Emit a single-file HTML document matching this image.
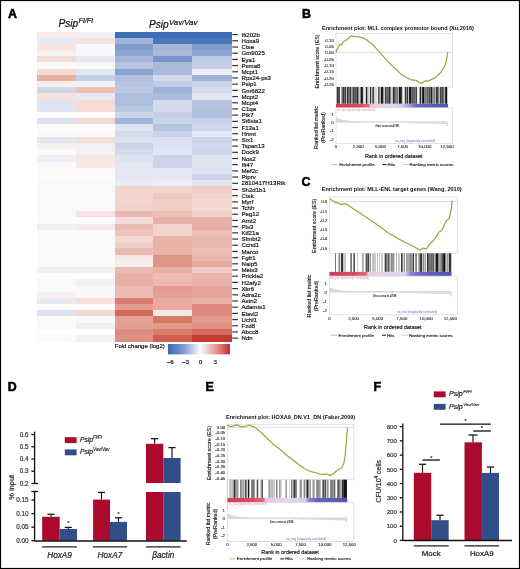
<!DOCTYPE html><html><head><meta charset="utf-8"><style>html,body{margin:0;padding:0;background:#fff;}svg{display:block;font-family:"Liberation Sans", sans-serif;filter:blur(0.45px);}</style></head><body>
<svg width="520" height="569" viewBox="0 0 520 569">
<rect x="0" y="0" width="520" height="569" fill="#fff"/>
<rect x="37.00" y="31.50" width="39.40" height="6.79" fill="#f8ebe8" shape-rendering="crispEdges"/>
<rect x="75.80" y="31.50" width="39.40" height="6.79" fill="#eef0f6" shape-rendering="crispEdges"/>
<rect x="114.60" y="31.50" width="39.40" height="6.79" fill="#3d6db5" shape-rendering="crispEdges"/>
<rect x="153.40" y="31.50" width="39.40" height="6.79" fill="#3d6db5" shape-rendering="crispEdges"/>
<rect x="192.20" y="31.50" width="39.40" height="6.79" fill="#3d6db5" shape-rendering="crispEdges"/>
<rect x="37.00" y="37.70" width="39.40" height="6.79" fill="#e6eaf2" shape-rendering="crispEdges"/>
<rect x="75.80" y="37.70" width="39.40" height="6.79" fill="#f6e3df" shape-rendering="crispEdges"/>
<rect x="114.60" y="37.70" width="39.40" height="6.79" fill="#9fb3d8" shape-rendering="crispEdges"/>
<rect x="153.40" y="37.70" width="39.40" height="6.79" fill="#4a78ba" shape-rendering="crispEdges"/>
<rect x="192.20" y="37.70" width="39.40" height="6.79" fill="#4a78ba" shape-rendering="crispEdges"/>
<rect x="37.00" y="43.89" width="39.40" height="6.79" fill="#f7e6e2" shape-rendering="crispEdges"/>
<rect x="75.80" y="43.89" width="39.40" height="6.79" fill="#f8f8fb" shape-rendering="crispEdges"/>
<rect x="114.60" y="43.89" width="39.40" height="6.79" fill="#7f9ccd" shape-rendering="crispEdges"/>
<rect x="153.40" y="43.89" width="39.40" height="6.79" fill="#a5b6d9" shape-rendering="crispEdges"/>
<rect x="192.20" y="43.89" width="39.40" height="6.79" fill="#7f9ccd" shape-rendering="crispEdges"/>
<rect x="37.00" y="50.09" width="39.40" height="6.79" fill="#f8f0ee" shape-rendering="crispEdges"/>
<rect x="75.80" y="50.09" width="39.40" height="6.79" fill="#f7f8fb" shape-rendering="crispEdges"/>
<rect x="114.60" y="50.09" width="39.40" height="6.79" fill="#8aa3d0" shape-rendering="crispEdges"/>
<rect x="153.40" y="50.09" width="39.40" height="6.79" fill="#a9badb" shape-rendering="crispEdges"/>
<rect x="192.20" y="50.09" width="39.40" height="6.79" fill="#8aa3d0" shape-rendering="crispEdges"/>
<rect x="37.00" y="56.28" width="39.40" height="6.79" fill="#f3dcd8" shape-rendering="crispEdges"/>
<rect x="75.80" y="56.28" width="39.40" height="6.79" fill="#e8e8f2" shape-rendering="crispEdges"/>
<rect x="114.60" y="56.28" width="39.40" height="6.79" fill="#a6b7da" shape-rendering="crispEdges"/>
<rect x="153.40" y="56.28" width="39.40" height="6.79" fill="#7895c9" shape-rendering="crispEdges"/>
<rect x="192.20" y="56.28" width="39.40" height="6.79" fill="#c0cbe4" shape-rendering="crispEdges"/>
<rect x="37.00" y="62.48" width="39.40" height="6.79" fill="#fbf8f8" shape-rendering="crispEdges"/>
<rect x="75.80" y="62.48" width="39.40" height="6.79" fill="#f8f8fb" shape-rendering="crispEdges"/>
<rect x="114.60" y="62.48" width="39.40" height="6.79" fill="#b8c5e2" shape-rendering="crispEdges"/>
<rect x="153.40" y="62.48" width="39.40" height="6.79" fill="#a9badb" shape-rendering="crispEdges"/>
<rect x="192.20" y="62.48" width="39.40" height="6.79" fill="#c4cfe6" shape-rendering="crispEdges"/>
<rect x="37.00" y="68.67" width="39.40" height="6.79" fill="#f2dcd6" shape-rendering="crispEdges"/>
<rect x="75.80" y="68.67" width="39.40" height="6.79" fill="#e2e6f0" shape-rendering="crispEdges"/>
<rect x="114.60" y="68.67" width="39.40" height="6.79" fill="#8aa2cf" shape-rendering="crispEdges"/>
<rect x="153.40" y="68.67" width="39.40" height="6.79" fill="#a9badb" shape-rendering="crispEdges"/>
<rect x="192.20" y="68.67" width="39.40" height="6.79" fill="#eceff7" shape-rendering="crispEdges"/>
<rect x="37.00" y="74.87" width="39.40" height="6.79" fill="#e8b0a0" shape-rendering="crispEdges"/>
<rect x="75.80" y="74.87" width="39.40" height="6.79" fill="#c5cfe3" shape-rendering="crispEdges"/>
<rect x="114.60" y="74.87" width="39.40" height="6.79" fill="#b0c0de" shape-rendering="crispEdges"/>
<rect x="153.40" y="74.87" width="39.40" height="6.79" fill="#d4dbec" shape-rendering="crispEdges"/>
<rect x="192.20" y="74.87" width="39.40" height="6.79" fill="#9fb3d8" shape-rendering="crispEdges"/>
<rect x="37.00" y="81.06" width="39.40" height="6.79" fill="#f8f0ee" shape-rendering="crispEdges"/>
<rect x="75.80" y="81.06" width="39.40" height="6.79" fill="#f0f2f7" shape-rendering="crispEdges"/>
<rect x="114.60" y="81.06" width="39.40" height="6.79" fill="#b6c4e1" shape-rendering="crispEdges"/>
<rect x="153.40" y="81.06" width="39.40" height="6.79" fill="#c0cbe4" shape-rendering="crispEdges"/>
<rect x="192.20" y="81.06" width="39.40" height="6.79" fill="#c9d2e8" shape-rendering="crispEdges"/>
<rect x="37.00" y="87.25" width="39.40" height="6.79" fill="#cdd6e8" shape-rendering="crispEdges"/>
<rect x="75.80" y="87.25" width="39.40" height="6.79" fill="#eec0b2" shape-rendering="crispEdges"/>
<rect x="114.60" y="87.25" width="39.40" height="6.79" fill="#bdc9e3" shape-rendering="crispEdges"/>
<rect x="153.40" y="87.25" width="39.40" height="6.79" fill="#9fb2d8" shape-rendering="crispEdges"/>
<rect x="192.20" y="87.25" width="39.40" height="6.79" fill="#d5dcec" shape-rendering="crispEdges"/>
<rect x="37.00" y="93.45" width="39.40" height="6.79" fill="#f4e0dc" shape-rendering="crispEdges"/>
<rect x="75.80" y="93.45" width="39.40" height="6.79" fill="#e8e8f2" shape-rendering="crispEdges"/>
<rect x="114.60" y="93.45" width="39.40" height="6.79" fill="#aebfdd" shape-rendering="crispEdges"/>
<rect x="153.40" y="93.45" width="39.40" height="6.79" fill="#a9badb" shape-rendering="crispEdges"/>
<rect x="192.20" y="93.45" width="39.40" height="6.79" fill="#e4e8f3" shape-rendering="crispEdges"/>
<rect x="37.00" y="99.65" width="39.40" height="6.79" fill="#dde3f0" shape-rendering="crispEdges"/>
<rect x="75.80" y="99.65" width="39.40" height="6.79" fill="#f5ddd5" shape-rendering="crispEdges"/>
<rect x="114.60" y="99.65" width="39.40" height="6.79" fill="#aebfdd" shape-rendering="crispEdges"/>
<rect x="153.40" y="99.65" width="39.40" height="6.79" fill="#d2daeb" shape-rendering="crispEdges"/>
<rect x="192.20" y="99.65" width="39.40" height="6.79" fill="#b7c4e1" shape-rendering="crispEdges"/>
<rect x="37.00" y="105.84" width="39.40" height="6.79" fill="#dfe5f1" shape-rendering="crispEdges"/>
<rect x="75.80" y="105.84" width="39.40" height="6.79" fill="#f5ddd5" shape-rendering="crispEdges"/>
<rect x="114.60" y="105.84" width="39.40" height="6.79" fill="#b9c6e2" shape-rendering="crispEdges"/>
<rect x="153.40" y="105.84" width="39.40" height="6.79" fill="#d2daeb" shape-rendering="crispEdges"/>
<rect x="192.20" y="105.84" width="39.40" height="6.79" fill="#b2c1df" shape-rendering="crispEdges"/>
<rect x="37.00" y="112.03" width="39.40" height="6.79" fill="#fdfdfe" shape-rendering="crispEdges"/>
<rect x="75.80" y="112.03" width="39.40" height="6.79" fill="#fdfdfe" shape-rendering="crispEdges"/>
<rect x="114.60" y="112.03" width="39.40" height="6.79" fill="#cdd5ea" shape-rendering="crispEdges"/>
<rect x="153.40" y="112.03" width="39.40" height="6.79" fill="#c6cfe6" shape-rendering="crispEdges"/>
<rect x="192.20" y="112.03" width="39.40" height="6.79" fill="#b2c1df" shape-rendering="crispEdges"/>
<rect x="37.00" y="118.23" width="39.40" height="6.79" fill="#dfe1ee" shape-rendering="crispEdges"/>
<rect x="75.80" y="118.23" width="39.40" height="6.79" fill="#f2d8d6" shape-rendering="crispEdges"/>
<rect x="114.60" y="118.23" width="39.40" height="6.79" fill="#a3b5d8" shape-rendering="crispEdges"/>
<rect x="153.40" y="118.23" width="39.40" height="6.79" fill="#cdd5ea" shape-rendering="crispEdges"/>
<rect x="192.20" y="118.23" width="39.40" height="6.79" fill="#c9d2e8" shape-rendering="crispEdges"/>
<rect x="37.00" y="124.43" width="39.40" height="6.79" fill="#fbfbfd" shape-rendering="crispEdges"/>
<rect x="75.80" y="124.43" width="39.40" height="6.79" fill="#fbfbfd" shape-rendering="crispEdges"/>
<rect x="114.60" y="124.43" width="39.40" height="6.79" fill="#dfe4f1" shape-rendering="crispEdges"/>
<rect x="153.40" y="124.43" width="39.40" height="6.79" fill="#b7c4e1" shape-rendering="crispEdges"/>
<rect x="192.20" y="124.43" width="39.40" height="6.79" fill="#cfd7ea" shape-rendering="crispEdges"/>
<rect x="37.00" y="130.62" width="39.40" height="6.79" fill="#faf8fa" shape-rendering="crispEdges"/>
<rect x="75.80" y="130.62" width="39.40" height="6.79" fill="#f9f9fb" shape-rendering="crispEdges"/>
<rect x="114.60" y="130.62" width="39.40" height="6.79" fill="#d3daec" shape-rendering="crispEdges"/>
<rect x="153.40" y="130.62" width="39.40" height="6.79" fill="#cad3e8" shape-rendering="crispEdges"/>
<rect x="192.20" y="130.62" width="39.40" height="6.79" fill="#e6eaf4" shape-rendering="crispEdges"/>
<rect x="37.00" y="136.81" width="39.40" height="6.79" fill="#e5e6f0" shape-rendering="crispEdges"/>
<rect x="75.80" y="136.81" width="39.40" height="6.79" fill="#f3dedb" shape-rendering="crispEdges"/>
<rect x="114.60" y="136.81" width="39.40" height="6.79" fill="#dde2f0" shape-rendering="crispEdges"/>
<rect x="153.40" y="136.81" width="39.40" height="6.79" fill="#dce2f0" shape-rendering="crispEdges"/>
<rect x="192.20" y="136.81" width="39.40" height="6.79" fill="#cdd4e9" shape-rendering="crispEdges"/>
<rect x="37.00" y="143.01" width="39.40" height="6.79" fill="#f7f0ef" shape-rendering="crispEdges"/>
<rect x="75.80" y="143.01" width="39.40" height="6.79" fill="#f0f1f7" shape-rendering="crispEdges"/>
<rect x="114.60" y="143.01" width="39.40" height="6.79" fill="#ccd4e9" shape-rendering="crispEdges"/>
<rect x="153.40" y="143.01" width="39.40" height="6.79" fill="#dde3f0" shape-rendering="crispEdges"/>
<rect x="192.20" y="143.01" width="39.40" height="6.79" fill="#d3d9ec" shape-rendering="crispEdges"/>
<rect x="37.00" y="149.21" width="39.40" height="6.79" fill="#fbfafb" shape-rendering="crispEdges"/>
<rect x="75.80" y="149.21" width="39.40" height="6.79" fill="#f5f0f0" shape-rendering="crispEdges"/>
<rect x="114.60" y="149.21" width="39.40" height="6.79" fill="#d5dcec" shape-rendering="crispEdges"/>
<rect x="153.40" y="149.21" width="39.40" height="6.79" fill="#e2e6f2" shape-rendering="crispEdges"/>
<rect x="192.20" y="149.21" width="39.40" height="6.79" fill="#d0d6ea" shape-rendering="crispEdges"/>
<rect x="37.00" y="155.40" width="39.40" height="6.79" fill="#eef0f6" shape-rendering="crispEdges"/>
<rect x="75.80" y="155.40" width="39.40" height="6.79" fill="#f7e6e4" shape-rendering="crispEdges"/>
<rect x="114.60" y="155.40" width="39.40" height="6.79" fill="#dfe3f0" shape-rendering="crispEdges"/>
<rect x="153.40" y="155.40" width="39.40" height="6.79" fill="#cdd4ea" shape-rendering="crispEdges"/>
<rect x="192.20" y="155.40" width="39.40" height="6.79" fill="#dfe3f0" shape-rendering="crispEdges"/>
<rect x="37.00" y="161.59" width="39.40" height="6.79" fill="#faf8fa" shape-rendering="crispEdges"/>
<rect x="75.80" y="161.59" width="39.40" height="6.79" fill="#f7e8e6" shape-rendering="crispEdges"/>
<rect x="114.60" y="161.59" width="39.40" height="6.79" fill="#e4e8f3" shape-rendering="crispEdges"/>
<rect x="153.40" y="161.59" width="39.40" height="6.79" fill="#cdd4ea" shape-rendering="crispEdges"/>
<rect x="192.20" y="161.59" width="39.40" height="6.79" fill="#dfe3f0" shape-rendering="crispEdges"/>
<rect x="37.00" y="167.79" width="39.40" height="6.79" fill="#fdf9f7" shape-rendering="crispEdges"/>
<rect x="75.80" y="167.79" width="39.40" height="6.79" fill="#f9f9fb" shape-rendering="crispEdges"/>
<rect x="114.60" y="167.79" width="39.40" height="6.79" fill="#e4e8f3" shape-rendering="crispEdges"/>
<rect x="153.40" y="167.79" width="39.40" height="6.79" fill="#e6e9f3" shape-rendering="crispEdges"/>
<rect x="192.20" y="167.79" width="39.40" height="6.79" fill="#dfe3f0" shape-rendering="crispEdges"/>
<rect x="37.00" y="173.99" width="39.40" height="6.79" fill="#fbfbfc" shape-rendering="crispEdges"/>
<rect x="75.80" y="173.99" width="39.40" height="6.79" fill="#fbfbfc" shape-rendering="crispEdges"/>
<rect x="114.60" y="173.99" width="39.40" height="6.79" fill="#e2e7f2" shape-rendering="crispEdges"/>
<rect x="153.40" y="173.99" width="39.40" height="6.79" fill="#e6e9f3" shape-rendering="crispEdges"/>
<rect x="192.20" y="173.99" width="39.40" height="6.79" fill="#cdd4ea" shape-rendering="crispEdges"/>
<rect x="37.00" y="180.18" width="39.40" height="6.79" fill="#f9f9fb" shape-rendering="crispEdges"/>
<rect x="75.80" y="180.18" width="39.40" height="6.79" fill="#f9f9fb" shape-rendering="crispEdges"/>
<rect x="114.60" y="180.18" width="39.40" height="6.79" fill="#e8ebf4" shape-rendering="crispEdges"/>
<rect x="153.40" y="180.18" width="39.40" height="6.79" fill="#ecedf5" shape-rendering="crispEdges"/>
<rect x="192.20" y="180.18" width="39.40" height="6.79" fill="#e0e5f2" shape-rendering="crispEdges"/>
<rect x="37.00" y="186.38" width="39.40" height="6.79" fill="#f9f9fb" shape-rendering="crispEdges"/>
<rect x="75.80" y="186.38" width="39.40" height="6.79" fill="#f9f9fb" shape-rendering="crispEdges"/>
<rect x="114.60" y="186.38" width="39.40" height="6.79" fill="#f2d5cf" shape-rendering="crispEdges"/>
<rect x="153.40" y="186.38" width="39.40" height="6.79" fill="#f2d5cf" shape-rendering="crispEdges"/>
<rect x="192.20" y="186.38" width="39.40" height="6.79" fill="#f0cdc6" shape-rendering="crispEdges"/>
<rect x="37.00" y="192.57" width="39.40" height="6.79" fill="#f9f9fb" shape-rendering="crispEdges"/>
<rect x="75.80" y="192.57" width="39.40" height="6.79" fill="#f9f9fb" shape-rendering="crispEdges"/>
<rect x="114.60" y="192.57" width="39.40" height="6.79" fill="#f2d5cf" shape-rendering="crispEdges"/>
<rect x="153.40" y="192.57" width="39.40" height="6.79" fill="#efc9c2" shape-rendering="crispEdges"/>
<rect x="192.20" y="192.57" width="39.40" height="6.79" fill="#f2d5cf" shape-rendering="crispEdges"/>
<rect x="37.00" y="198.77" width="39.40" height="6.79" fill="#f9f9fb" shape-rendering="crispEdges"/>
<rect x="75.80" y="198.77" width="39.40" height="6.79" fill="#f9f9fb" shape-rendering="crispEdges"/>
<rect x="114.60" y="198.77" width="39.40" height="6.79" fill="#f2d3cd" shape-rendering="crispEdges"/>
<rect x="153.40" y="198.77" width="39.40" height="6.79" fill="#f0cfc9" shape-rendering="crispEdges"/>
<rect x="192.20" y="198.77" width="39.40" height="6.79" fill="#f2d7d2" shape-rendering="crispEdges"/>
<rect x="37.00" y="204.96" width="39.40" height="6.79" fill="#f9f9fb" shape-rendering="crispEdges"/>
<rect x="75.80" y="204.96" width="39.40" height="6.79" fill="#f9f9fb" shape-rendering="crispEdges"/>
<rect x="114.60" y="204.96" width="39.40" height="6.79" fill="#f0d1cc" shape-rendering="crispEdges"/>
<rect x="153.40" y="204.96" width="39.40" height="6.79" fill="#f0cfc9" shape-rendering="crispEdges"/>
<rect x="192.20" y="204.96" width="39.40" height="6.79" fill="#f2d7d2" shape-rendering="crispEdges"/>
<rect x="37.00" y="211.16" width="39.40" height="6.79" fill="#faf8f8" shape-rendering="crispEdges"/>
<rect x="75.80" y="211.16" width="39.40" height="6.79" fill="#f8e3e3" shape-rendering="crispEdges"/>
<rect x="114.60" y="211.16" width="39.40" height="6.79" fill="#eab8b0" shape-rendering="crispEdges"/>
<rect x="153.40" y="211.16" width="39.40" height="6.79" fill="#ecc0b8" shape-rendering="crispEdges"/>
<rect x="192.20" y="211.16" width="39.40" height="6.79" fill="#f0d0ca" shape-rendering="crispEdges"/>
<rect x="37.00" y="217.35" width="39.40" height="6.79" fill="#fbfbfc" shape-rendering="crispEdges"/>
<rect x="75.80" y="217.35" width="39.40" height="6.79" fill="#fbfbfc" shape-rendering="crispEdges"/>
<rect x="114.60" y="217.35" width="39.40" height="6.79" fill="#f4dcd8" shape-rendering="crispEdges"/>
<rect x="153.40" y="217.35" width="39.40" height="6.79" fill="#e8b2a8" shape-rendering="crispEdges"/>
<rect x="192.20" y="217.35" width="39.40" height="6.79" fill="#e8b4aa" shape-rendering="crispEdges"/>
<rect x="37.00" y="223.55" width="39.40" height="6.79" fill="#eef0f5" shape-rendering="crispEdges"/>
<rect x="75.80" y="223.55" width="39.40" height="6.79" fill="#f6e8e6" shape-rendering="crispEdges"/>
<rect x="114.60" y="223.55" width="39.40" height="6.79" fill="#ecbcb4" shape-rendering="crispEdges"/>
<rect x="153.40" y="223.55" width="39.40" height="6.79" fill="#f1d4ce" shape-rendering="crispEdges"/>
<rect x="192.20" y="223.55" width="39.40" height="6.79" fill="#e6aea4" shape-rendering="crispEdges"/>
<rect x="37.00" y="229.74" width="39.40" height="6.79" fill="#fbfafb" shape-rendering="crispEdges"/>
<rect x="75.80" y="229.74" width="39.40" height="6.79" fill="#fbfafb" shape-rendering="crispEdges"/>
<rect x="114.60" y="229.74" width="39.40" height="6.79" fill="#eec4bc" shape-rendering="crispEdges"/>
<rect x="153.40" y="229.74" width="39.40" height="6.79" fill="#f1d4ce" shape-rendering="crispEdges"/>
<rect x="192.20" y="229.74" width="39.40" height="6.79" fill="#ecbfb6" shape-rendering="crispEdges"/>
<rect x="37.00" y="235.94" width="39.40" height="6.79" fill="#fbfafb" shape-rendering="crispEdges"/>
<rect x="75.80" y="235.94" width="39.40" height="6.79" fill="#fbfafb" shape-rendering="crispEdges"/>
<rect x="114.60" y="235.94" width="39.40" height="6.79" fill="#f3d8d4" shape-rendering="crispEdges"/>
<rect x="153.40" y="235.94" width="39.40" height="6.79" fill="#e8b4aa" shape-rendering="crispEdges"/>
<rect x="192.20" y="235.94" width="39.40" height="6.79" fill="#e9b8ae" shape-rendering="crispEdges"/>
<rect x="37.00" y="242.13" width="39.40" height="6.79" fill="#fbfafb" shape-rendering="crispEdges"/>
<rect x="75.80" y="242.13" width="39.40" height="6.79" fill="#fbfafb" shape-rendering="crispEdges"/>
<rect x="114.60" y="242.13" width="39.40" height="6.79" fill="#f0d0ca" shape-rendering="crispEdges"/>
<rect x="153.40" y="242.13" width="39.40" height="6.79" fill="#e8b2a8" shape-rendering="crispEdges"/>
<rect x="192.20" y="242.13" width="39.40" height="6.79" fill="#e9b8ae" shape-rendering="crispEdges"/>
<rect x="37.00" y="248.33" width="39.40" height="6.79" fill="#fbfafb" shape-rendering="crispEdges"/>
<rect x="75.80" y="248.33" width="39.40" height="6.79" fill="#fbfafb" shape-rendering="crispEdges"/>
<rect x="114.60" y="248.33" width="39.40" height="6.79" fill="#ebbbb2" shape-rendering="crispEdges"/>
<rect x="153.40" y="248.33" width="39.40" height="6.79" fill="#e8b4aa" shape-rendering="crispEdges"/>
<rect x="192.20" y="248.33" width="39.40" height="6.79" fill="#ecbfb6" shape-rendering="crispEdges"/>
<rect x="37.00" y="254.52" width="39.40" height="6.79" fill="#fbfafb" shape-rendering="crispEdges"/>
<rect x="75.80" y="254.52" width="39.40" height="6.79" fill="#fbfafb" shape-rendering="crispEdges"/>
<rect x="114.60" y="254.52" width="39.40" height="6.79" fill="#f7e8e8" shape-rendering="crispEdges"/>
<rect x="153.40" y="254.52" width="39.40" height="6.79" fill="#e09484" shape-rendering="crispEdges"/>
<rect x="192.20" y="254.52" width="39.40" height="6.79" fill="#eab8ae" shape-rendering="crispEdges"/>
<rect x="37.00" y="260.72" width="39.40" height="6.79" fill="#fbfafb" shape-rendering="crispEdges"/>
<rect x="75.80" y="260.72" width="39.40" height="6.79" fill="#fbfafb" shape-rendering="crispEdges"/>
<rect x="114.60" y="260.72" width="39.40" height="6.79" fill="#f8eeee" shape-rendering="crispEdges"/>
<rect x="153.40" y="260.72" width="39.40" height="6.79" fill="#e09484" shape-rendering="crispEdges"/>
<rect x="192.20" y="260.72" width="39.40" height="6.79" fill="#e6aca0" shape-rendering="crispEdges"/>
<rect x="37.00" y="266.91" width="39.40" height="6.79" fill="#f6eeec" shape-rendering="crispEdges"/>
<rect x="75.80" y="266.91" width="39.40" height="6.79" fill="#f0f0f5" shape-rendering="crispEdges"/>
<rect x="114.60" y="266.91" width="39.40" height="6.79" fill="#ecbcb4" shape-rendering="crispEdges"/>
<rect x="153.40" y="266.91" width="39.40" height="6.79" fill="#e8b0a6" shape-rendering="crispEdges"/>
<rect x="192.20" y="266.91" width="39.40" height="6.79" fill="#f0cdc6" shape-rendering="crispEdges"/>
<rect x="37.00" y="273.11" width="39.40" height="6.79" fill="#fcfcfc" shape-rendering="crispEdges"/>
<rect x="75.80" y="273.11" width="39.40" height="6.79" fill="#fcfcfc" shape-rendering="crispEdges"/>
<rect x="114.60" y="273.11" width="39.40" height="6.79" fill="#e8b2a8" shape-rendering="crispEdges"/>
<rect x="153.40" y="273.11" width="39.40" height="6.79" fill="#ecbdb4" shape-rendering="crispEdges"/>
<rect x="192.20" y="273.11" width="39.40" height="6.79" fill="#eab6ac" shape-rendering="crispEdges"/>
<rect x="37.00" y="279.30" width="39.40" height="6.79" fill="#faf9fa" shape-rendering="crispEdges"/>
<rect x="75.80" y="279.30" width="39.40" height="6.79" fill="#f7f0ef" shape-rendering="crispEdges"/>
<rect x="114.60" y="279.30" width="39.40" height="6.79" fill="#e8b0a6" shape-rendering="crispEdges"/>
<rect x="153.40" y="279.30" width="39.40" height="6.79" fill="#ecbab1" shape-rendering="crispEdges"/>
<rect x="192.20" y="279.30" width="39.40" height="6.79" fill="#e8b2a8" shape-rendering="crispEdges"/>
<rect x="37.00" y="285.50" width="39.40" height="6.79" fill="#fbfbfc" shape-rendering="crispEdges"/>
<rect x="75.80" y="285.50" width="39.40" height="6.79" fill="#f8f8fb" shape-rendering="crispEdges"/>
<rect x="114.60" y="285.50" width="39.40" height="6.79" fill="#ecbab1" shape-rendering="crispEdges"/>
<rect x="153.40" y="285.50" width="39.40" height="6.79" fill="#e49c90" shape-rendering="crispEdges"/>
<rect x="192.20" y="285.50" width="39.40" height="6.79" fill="#e5a498" shape-rendering="crispEdges"/>
<rect x="37.00" y="291.69" width="39.40" height="6.79" fill="#f6f0f0" shape-rendering="crispEdges"/>
<rect x="75.80" y="291.69" width="39.40" height="6.79" fill="#f8f8fb" shape-rendering="crispEdges"/>
<rect x="114.60" y="291.69" width="39.40" height="6.79" fill="#ecbcb4" shape-rendering="crispEdges"/>
<rect x="153.40" y="291.69" width="39.40" height="6.79" fill="#e4a094" shape-rendering="crispEdges"/>
<rect x="192.20" y="291.69" width="39.40" height="6.79" fill="#e5a498" shape-rendering="crispEdges"/>
<rect x="37.00" y="297.88" width="39.40" height="6.79" fill="#e8ebf4" shape-rendering="crispEdges"/>
<rect x="75.80" y="297.88" width="39.40" height="6.79" fill="#f5e2df" shape-rendering="crispEdges"/>
<rect x="114.60" y="297.88" width="39.40" height="6.79" fill="#d97c70" shape-rendering="crispEdges"/>
<rect x="153.40" y="297.88" width="39.40" height="6.79" fill="#e6aa9e" shape-rendering="crispEdges"/>
<rect x="192.20" y="297.88" width="39.40" height="6.79" fill="#e8b0a6" shape-rendering="crispEdges"/>
<rect x="37.00" y="304.08" width="39.40" height="6.79" fill="#fdfdfd" shape-rendering="crispEdges"/>
<rect x="75.80" y="304.08" width="39.40" height="6.79" fill="#fdfdfd" shape-rendering="crispEdges"/>
<rect x="114.60" y="304.08" width="39.40" height="6.79" fill="#e29c90" shape-rendering="crispEdges"/>
<rect x="153.40" y="304.08" width="39.40" height="6.79" fill="#eca89c" shape-rendering="crispEdges"/>
<rect x="192.20" y="304.08" width="39.40" height="6.79" fill="#dd8a7e" shape-rendering="crispEdges"/>
<rect x="37.00" y="310.28" width="39.40" height="6.79" fill="#dfe3f0" shape-rendering="crispEdges"/>
<rect x="75.80" y="310.28" width="39.40" height="6.79" fill="#f3d8d6" shape-rendering="crispEdges"/>
<rect x="114.60" y="310.28" width="39.40" height="6.79" fill="#d46a5e" shape-rendering="crispEdges"/>
<rect x="153.40" y="310.28" width="39.40" height="6.79" fill="#f6e8e4" shape-rendering="crispEdges"/>
<rect x="192.20" y="310.28" width="39.40" height="6.79" fill="#dc887c" shape-rendering="crispEdges"/>
<rect x="37.00" y="316.47" width="39.40" height="6.79" fill="#faf9fa" shape-rendering="crispEdges"/>
<rect x="75.80" y="316.47" width="39.40" height="6.79" fill="#f8f8fa" shape-rendering="crispEdges"/>
<rect x="114.60" y="316.47" width="39.40" height="6.79" fill="#e4a094" shape-rendering="crispEdges"/>
<rect x="153.40" y="316.47" width="39.40" height="6.79" fill="#d77868" shape-rendering="crispEdges"/>
<rect x="192.20" y="316.47" width="39.40" height="6.79" fill="#e29a8e" shape-rendering="crispEdges"/>
<rect x="37.00" y="322.67" width="39.40" height="6.79" fill="#faf8f9" shape-rendering="crispEdges"/>
<rect x="75.80" y="322.67" width="39.40" height="6.79" fill="#f6eceb" shape-rendering="crispEdges"/>
<rect x="114.60" y="322.67" width="39.40" height="6.79" fill="#e39e92" shape-rendering="crispEdges"/>
<rect x="153.40" y="322.67" width="39.40" height="6.79" fill="#e29a8c" shape-rendering="crispEdges"/>
<rect x="192.20" y="322.67" width="39.40" height="6.79" fill="#e09282" shape-rendering="crispEdges"/>
<rect x="37.00" y="328.86" width="39.40" height="6.79" fill="#fdfdfd" shape-rendering="crispEdges"/>
<rect x="75.80" y="328.86" width="39.40" height="6.79" fill="#fdfdfd" shape-rendering="crispEdges"/>
<rect x="114.60" y="328.86" width="39.40" height="6.79" fill="#de8c80" shape-rendering="crispEdges"/>
<rect x="153.40" y="328.86" width="39.40" height="6.79" fill="#d87a6c" shape-rendering="crispEdges"/>
<rect x="192.20" y="328.86" width="39.40" height="6.79" fill="#d46a5c" shape-rendering="crispEdges"/>
<rect x="37.00" y="335.06" width="39.40" height="6.79" fill="#fbf9f9" shape-rendering="crispEdges"/>
<rect x="75.80" y="335.06" width="39.40" height="6.79" fill="#f6f0f0" shape-rendering="crispEdges"/>
<rect x="114.60" y="335.06" width="39.40" height="6.79" fill="#de9084" shape-rendering="crispEdges"/>
<rect x="153.40" y="335.06" width="39.40" height="6.79" fill="#d25e50" shape-rendering="crispEdges"/>
<rect x="192.20" y="335.06" width="39.40" height="6.79" fill="#c83a30" shape-rendering="crispEdges"/>
<rect x="232.3" y="34.00" width="5.7" height="1.2" fill="#333"/>
<text x="241.50" y="36.75" font-size="6.1" fill="#111" stroke="#111" stroke-width="0.183">Ifi202b</text>
<rect x="232.3" y="40.19" width="5.7" height="1.2" fill="#333"/>
<text x="241.50" y="42.94" font-size="6.1" fill="#111" stroke="#111" stroke-width="0.183">Hoxa9</text>
<rect x="232.3" y="46.39" width="5.7" height="1.2" fill="#333"/>
<text x="241.50" y="49.14" font-size="6.1" fill="#111" stroke="#111" stroke-width="0.183">Ctse</text>
<rect x="232.3" y="52.58" width="5.7" height="1.2" fill="#333"/>
<text x="241.50" y="55.33" font-size="6.1" fill="#111" stroke="#111" stroke-width="0.183">Gm9025</text>
<rect x="232.3" y="58.78" width="5.7" height="1.2" fill="#333"/>
<text x="241.50" y="61.53" font-size="6.1" fill="#111" stroke="#111" stroke-width="0.183">Eya1</text>
<rect x="232.3" y="64.97" width="5.7" height="1.2" fill="#333"/>
<text x="241.50" y="67.72" font-size="6.1" fill="#111" stroke="#111" stroke-width="0.183">Psma8</text>
<rect x="232.3" y="71.17" width="5.7" height="1.2" fill="#333"/>
<text x="241.50" y="73.92" font-size="6.1" fill="#111" stroke="#111" stroke-width="0.183">Mcpt1</text>
<rect x="232.3" y="77.36" width="5.7" height="1.2" fill="#333"/>
<text x="241.50" y="80.11" font-size="6.1" fill="#111" stroke="#111" stroke-width="0.183">Rps24-ps3</text>
<rect x="232.3" y="83.56" width="5.7" height="1.2" fill="#333"/>
<text x="241.50" y="86.31" font-size="6.1" fill="#111" stroke="#111" stroke-width="0.183">Psip1</text>
<rect x="232.3" y="89.75" width="5.7" height="1.2" fill="#333"/>
<text x="241.50" y="92.50" font-size="6.1" fill="#111" stroke="#111" stroke-width="0.183">Gm6822</text>
<rect x="232.3" y="95.95" width="5.7" height="1.2" fill="#333"/>
<text x="241.50" y="98.70" font-size="6.1" fill="#111" stroke="#111" stroke-width="0.183">Mcpt2</text>
<rect x="232.3" y="102.14" width="5.7" height="1.2" fill="#333"/>
<text x="241.50" y="104.89" font-size="6.1" fill="#111" stroke="#111" stroke-width="0.183">Mcpt4</text>
<rect x="232.3" y="108.34" width="5.7" height="1.2" fill="#333"/>
<text x="241.50" y="111.09" font-size="6.1" fill="#111" stroke="#111" stroke-width="0.183">C1qa</text>
<rect x="232.3" y="114.53" width="5.7" height="1.2" fill="#333"/>
<text x="241.50" y="117.28" font-size="6.1" fill="#111" stroke="#111" stroke-width="0.183">Ptk7</text>
<rect x="232.3" y="120.73" width="5.7" height="1.2" fill="#333"/>
<text x="241.50" y="123.48" font-size="6.1" fill="#111" stroke="#111" stroke-width="0.183">St6sia1</text>
<rect x="232.3" y="126.92" width="5.7" height="1.2" fill="#333"/>
<text x="241.50" y="129.67" font-size="6.1" fill="#111" stroke="#111" stroke-width="0.183">F13a1</text>
<rect x="232.3" y="133.12" width="5.7" height="1.2" fill="#333"/>
<text x="241.50" y="135.87" font-size="6.1" fill="#111" stroke="#111" stroke-width="0.183">Hnmt</text>
<rect x="232.3" y="139.31" width="5.7" height="1.2" fill="#333"/>
<text x="241.50" y="142.06" font-size="6.1" fill="#111" stroke="#111" stroke-width="0.183">Six1</text>
<rect x="232.3" y="145.51" width="5.7" height="1.2" fill="#333"/>
<text x="241.50" y="148.26" font-size="6.1" fill="#111" stroke="#111" stroke-width="0.183">Tspan13</text>
<rect x="232.3" y="151.70" width="5.7" height="1.2" fill="#333"/>
<text x="241.50" y="154.45" font-size="6.1" fill="#111" stroke="#111" stroke-width="0.183">Dock9</text>
<rect x="232.3" y="157.90" width="5.7" height="1.2" fill="#333"/>
<text x="241.50" y="160.65" font-size="6.1" fill="#111" stroke="#111" stroke-width="0.183">Nos2</text>
<rect x="232.3" y="164.09" width="5.7" height="1.2" fill="#333"/>
<text x="241.50" y="166.84" font-size="6.1" fill="#111" stroke="#111" stroke-width="0.183">Ifi47</text>
<rect x="232.3" y="170.29" width="5.7" height="1.2" fill="#333"/>
<text x="241.50" y="173.04" font-size="6.1" fill="#111" stroke="#111" stroke-width="0.183">Mef2c</text>
<rect x="232.3" y="176.48" width="5.7" height="1.2" fill="#333"/>
<text x="241.50" y="179.23" font-size="6.1" fill="#111" stroke="#111" stroke-width="0.183">Ptprv</text>
<rect x="232.3" y="182.68" width="5.7" height="1.2" fill="#333"/>
<text x="241.50" y="185.43" font-size="6.1" fill="#111" stroke="#111" stroke-width="0.183">2810417H13Rik</text>
<rect x="232.3" y="188.87" width="5.7" height="1.2" fill="#333"/>
<text x="241.50" y="191.62" font-size="6.1" fill="#111" stroke="#111" stroke-width="0.183">Sh2d1b1</text>
<rect x="232.3" y="195.07" width="5.7" height="1.2" fill="#333"/>
<text x="241.50" y="197.82" font-size="6.1" fill="#111" stroke="#111" stroke-width="0.183">Ctsk</text>
<rect x="232.3" y="201.26" width="5.7" height="1.2" fill="#333"/>
<text x="241.50" y="204.01" font-size="6.1" fill="#111" stroke="#111" stroke-width="0.183">Myrf</text>
<rect x="232.3" y="207.46" width="5.7" height="1.2" fill="#333"/>
<text x="241.50" y="210.21" font-size="6.1" fill="#111" stroke="#111" stroke-width="0.183">Tchh</text>
<rect x="232.3" y="213.65" width="5.7" height="1.2" fill="#333"/>
<text x="241.50" y="216.40" font-size="6.1" fill="#111" stroke="#111" stroke-width="0.183">Peg12</text>
<rect x="232.3" y="219.85" width="5.7" height="1.2" fill="#333"/>
<text x="241.50" y="222.60" font-size="6.1" fill="#111" stroke="#111" stroke-width="0.183">Arnt2</text>
<rect x="232.3" y="226.04" width="5.7" height="1.2" fill="#333"/>
<text x="241.50" y="228.79" font-size="6.1" fill="#111" stroke="#111" stroke-width="0.183">Pls3</text>
<rect x="232.3" y="232.24" width="5.7" height="1.2" fill="#333"/>
<text x="241.50" y="234.99" font-size="6.1" fill="#111" stroke="#111" stroke-width="0.183">Kif21a</text>
<rect x="232.3" y="238.43" width="5.7" height="1.2" fill="#333"/>
<text x="241.50" y="241.18" font-size="6.1" fill="#111" stroke="#111" stroke-width="0.183">Sfmbt2</text>
<rect x="232.3" y="244.63" width="5.7" height="1.2" fill="#333"/>
<text x="241.50" y="247.38" font-size="6.1" fill="#111" stroke="#111" stroke-width="0.183">Ccnd1</text>
<rect x="232.3" y="250.82" width="5.7" height="1.2" fill="#333"/>
<text x="241.50" y="253.57" font-size="6.1" fill="#111" stroke="#111" stroke-width="0.183">Marco</text>
<rect x="232.3" y="257.02" width="5.7" height="1.2" fill="#333"/>
<text x="241.50" y="259.77" font-size="6.1" fill="#111" stroke="#111" stroke-width="0.183">Fgfr1</text>
<rect x="232.3" y="263.21" width="5.7" height="1.2" fill="#333"/>
<text x="241.50" y="265.96" font-size="6.1" fill="#111" stroke="#111" stroke-width="0.183">Naip5</text>
<rect x="232.3" y="269.41" width="5.7" height="1.2" fill="#333"/>
<text x="241.50" y="272.16" font-size="6.1" fill="#111" stroke="#111" stroke-width="0.183">Meis3</text>
<rect x="232.3" y="275.60" width="5.7" height="1.2" fill="#333"/>
<text x="241.50" y="278.35" font-size="6.1" fill="#111" stroke="#111" stroke-width="0.183">Prickle2</text>
<rect x="232.3" y="281.80" width="5.7" height="1.2" fill="#333"/>
<text x="241.50" y="284.55" font-size="6.1" fill="#111" stroke="#111" stroke-width="0.183">H2afy2</text>
<rect x="232.3" y="287.99" width="5.7" height="1.2" fill="#333"/>
<text x="241.50" y="290.74" font-size="6.1" fill="#111" stroke="#111" stroke-width="0.183">Xkr6</text>
<rect x="232.3" y="294.19" width="5.7" height="1.2" fill="#333"/>
<text x="241.50" y="296.94" font-size="6.1" fill="#111" stroke="#111" stroke-width="0.183">Adra2c</text>
<rect x="232.3" y="300.38" width="5.7" height="1.2" fill="#333"/>
<text x="241.50" y="303.13" font-size="6.1" fill="#111" stroke="#111" stroke-width="0.183">Astn2</text>
<rect x="232.3" y="306.58" width="5.7" height="1.2" fill="#333"/>
<text x="241.50" y="309.33" font-size="6.1" fill="#111" stroke="#111" stroke-width="0.183">Adamts1</text>
<rect x="232.3" y="312.77" width="5.7" height="1.2" fill="#333"/>
<text x="241.50" y="315.52" font-size="6.1" fill="#111" stroke="#111" stroke-width="0.183">Elavl2</text>
<rect x="232.3" y="318.97" width="5.7" height="1.2" fill="#333"/>
<text x="241.50" y="321.72" font-size="6.1" fill="#111" stroke="#111" stroke-width="0.183">Uchl1</text>
<rect x="232.3" y="325.16" width="5.7" height="1.2" fill="#333"/>
<text x="241.50" y="327.91" font-size="6.1" fill="#111" stroke="#111" stroke-width="0.183">Fzd8</text>
<rect x="232.3" y="331.36" width="5.7" height="1.2" fill="#333"/>
<text x="241.50" y="334.11" font-size="6.1" fill="#111" stroke="#111" stroke-width="0.183">Abcc8</text>
<rect x="232.3" y="337.55" width="5.7" height="1.2" fill="#333"/>
<text x="241.50" y="340.30" font-size="6.1" fill="#111" stroke="#111" stroke-width="0.183">Ndn</text>
<text x="58.50" y="26.70" font-size="10.1" font-style="italic" fill="#111" stroke="#111" stroke-width="0.22">Psip</text>
<text x="78.60" y="23.40" font-size="7.4" font-style="italic" fill="#111" stroke="#111" stroke-width="0.22">Fl/Fl</text>
<text x="149.00" y="27.50" font-size="10.1" font-style="italic" fill="#111" stroke="#111" stroke-width="0.22">Psip</text>
<text x="168.90" y="25.00" font-size="7.8" font-style="italic" fill="#111" stroke="#111" stroke-width="0.22">Vav/Vav</text>
<defs><linearGradient id="cb" x1="0" x2="1" y1="0" y2="0"><stop offset="0" stop-color="#3b66b2"/><stop offset="0.25" stop-color="#7d9ad0"/><stop offset="0.52" stop-color="#fbfbfd"/><stop offset="0.75" stop-color="#e6a39c"/><stop offset="1" stop-color="#c52a2e"/></linearGradient></defs>
<rect x="168" y="344" width="62" height="10.4" fill="url(#cb)"/>
<text x="164.80" y="348.20" font-size="6.0" text-anchor="end" fill="#111" stroke="#111" stroke-width="0.18">Fold change (log2)</text>
<text x="170.20" y="363.60" font-size="6.2" text-anchor="middle" fill="#111" stroke="#111" stroke-width="0.186">–6</text>
<text x="185.40" y="363.60" font-size="6.2" text-anchor="middle" fill="#111" stroke="#111" stroke-width="0.186">–3</text>
<text x="200.40" y="363.60" font-size="6.2" text-anchor="middle" fill="#111" stroke="#111" stroke-width="0.186">0</text>
<text x="215.30" y="363.60" font-size="6.2" text-anchor="middle" fill="#111" stroke="#111" stroke-width="0.186">3</text>
<text x="322.00" y="30.00" font-size="5.55" font-weight="bold" fill="#111">Enrichment plot: MLL complex promotor bound (Xu,2016)</text>
<rect x="336" y="33.4" width="116.5" height="53.6" fill="none" stroke="#d8d8d8" stroke-width="0.7"/>
<line x1="336" x2="452.5" y1="52.3" y2="52.3" stroke="#cfcfcf" stroke-width="0.7"/>
<text x="333.90" y="41.50" font-size="4.4" text-anchor="end" fill="#333" stroke="#333" stroke-width="0.132">0.10</text>
<text x="333.90" y="47.85" font-size="4.4" text-anchor="end" fill="#333" stroke="#333" stroke-width="0.132">0.05</text>
<text x="333.90" y="54.20" font-size="4.4" text-anchor="end" fill="#333" stroke="#333" stroke-width="0.132">0.00</text>
<text x="333.90" y="60.55" font-size="4.4" text-anchor="end" fill="#333" stroke="#333" stroke-width="0.132">-0.05</text>
<text x="333.90" y="66.90" font-size="4.4" text-anchor="end" fill="#333" stroke="#333" stroke-width="0.132">-0.10</text>
<text x="333.90" y="73.25" font-size="4.4" text-anchor="end" fill="#333" stroke="#333" stroke-width="0.132">-0.15</text>
<text x="333.90" y="79.60" font-size="4.4" text-anchor="end" fill="#333" stroke="#333" stroke-width="0.132">-0.20</text>
<text x="333.90" y="85.95" font-size="4.4" text-anchor="end" fill="#333" stroke="#333" stroke-width="0.132">-0.25</text>
<text x="0" y="0" font-size="5.4" text-anchor="middle" fill="#222" stroke="#222" stroke-width="0.15" transform="translate(318.6,61.5) rotate(-90)">Enrichment score (ES)</text>
<polyline points="335.9,52.6 337.5,48.5 339.8,44.4 341.5,44.8 343.2,42.1 346.7,39.8 350.1,36.9 351.3,35.6 353.0,36.3 358.2,36.7 362.8,37.8 367.4,40.4 373.2,45.0 377.8,50.2 382.4,55.4 388.2,61.7 392.0,65.6 396.6,69.8 401.2,74.4 405.8,77.3 410.5,79.6 416.8,80.7 419.1,82.5 422.0,83.3 425.4,80.7 427.8,81.3 431.2,79.6 434.7,77.9 438.1,75.0 441.6,71.5 445.0,65.8 446.2,61.1 447.1,56.5 447.7,51.9" fill="none" stroke="#8cae46" stroke-width="1.25" stroke-linejoin="round"/>
<rect x="336" y="87.0" width="1" height="16.80" fill="rgb(187,187,187)"/>
<rect x="337" y="87.0" width="1" height="16.80" fill="rgb(51,51,51)"/>
<rect x="338" y="87.0" width="1" height="16.80" fill="rgb(85,85,85)"/>
<rect x="339" y="87.0" width="1" height="16.80" fill="rgb(68,68,68)"/>
<rect x="341" y="87.0" width="1" height="16.80" fill="rgb(153,153,153)"/>
<rect x="342" y="87.0" width="1" height="16.80" fill="rgb(119,119,119)"/>
<rect x="343" y="87.0" width="1" height="16.80" fill="rgb(51,51,51)"/>
<rect x="344" y="87.0" width="1" height="16.80" fill="rgb(102,102,102)"/>
<rect x="345" y="87.0" width="1" height="16.80" fill="rgb(68,68,68)"/>
<rect x="346" y="87.0" width="1" height="16.80" fill="rgb(187,187,187)"/>
<rect x="347" y="87.0" width="1" height="16.80" fill="rgb(51,51,51)"/>
<rect x="348" y="87.0" width="1" height="16.80" fill="rgb(102,102,102)"/>
<rect x="349" y="87.0" width="1" height="16.80" fill="rgb(119,119,119)"/>
<rect x="350" y="87.0" width="1" height="16.80" fill="rgb(51,51,51)"/>
<rect x="351" y="87.0" width="1" height="16.80" fill="rgb(170,170,170)"/>
<rect x="352" y="87.0" width="1" height="16.80" fill="rgb(136,136,136)"/>
<rect x="353" y="87.0" width="1" height="16.80" fill="rgb(68,68,68)"/>
<rect x="354" y="87.0" width="1" height="16.80" fill="rgb(102,102,102)"/>
<rect x="355" y="87.0" width="1" height="16.80" fill="rgb(85,85,85)"/>
<rect x="356" y="87.0" width="1" height="16.80" fill="rgb(102,102,102)"/>
<rect x="357" y="87.0" width="1" height="16.80" fill="rgb(51,51,51)"/>
<rect x="358" y="87.0" width="1" height="16.80" fill="rgb(136,136,136)"/>
<rect x="359" y="87.0" width="1" height="16.80" fill="rgb(204,204,204)"/>
<rect x="360" y="87.0" width="1" height="16.80" fill="rgb(136,136,136)"/>
<rect x="361" y="87.0" width="1" height="16.80" fill="rgb(17,17,17)"/>
<rect x="362" y="87.0" width="1" height="16.80" fill="rgb(51,51,51)"/>
<rect x="363" y="87.0" width="1" height="16.80" fill="rgb(204,204,204)"/>
<rect x="364" y="87.0" width="1" height="16.80" fill="rgb(238,238,238)"/>
<rect x="365" y="87.0" width="1" height="16.80" fill="rgb(204,204,204)"/>
<rect x="366" y="87.0" width="1" height="16.80" fill="rgb(34,34,34)"/>
<rect x="367" y="87.0" width="1" height="16.80" fill="rgb(170,170,170)"/>
<rect x="368" y="87.0" width="1" height="16.80" fill="rgb(204,204,204)"/>
<rect x="369" y="87.0" width="1" height="16.80" fill="rgb(221,221,221)"/>
<rect x="370" y="87.0" width="1" height="16.80" fill="rgb(51,51,51)"/>
<rect x="371" y="87.0" width="1" height="16.80" fill="rgb(187,187,187)"/>
<rect x="372" y="87.0" width="1" height="16.80" fill="rgb(119,119,119)"/>
<rect x="373" y="87.0" width="1" height="16.80" fill="rgb(68,68,68)"/>
<rect x="374" y="87.0" width="1" height="16.80" fill="rgb(204,204,204)"/>
<rect x="375" y="87.0" width="1" height="16.80" fill="rgb(221,221,221)"/>
<rect x="376" y="87.0" width="1" height="16.80" fill="rgb(221,221,221)"/>
<rect x="377" y="87.0" width="1" height="16.80" fill="rgb(238,238,238)"/>
<rect x="378" y="87.0" width="1" height="16.80" fill="rgb(85,85,85)"/>
<rect x="379" y="87.0" width="1" height="16.80" fill="rgb(136,136,136)"/>
<rect x="380" y="87.0" width="1" height="16.80" fill="rgb(187,187,187)"/>
<rect x="381" y="87.0" width="1" height="16.80" fill="rgb(17,17,17)"/>
<rect x="382" y="87.0" width="1" height="16.80" fill="rgb(34,34,34)"/>
<rect x="383" y="87.0" width="1" height="16.80" fill="rgb(153,153,153)"/>
<rect x="384" y="87.0" width="1" height="16.80" fill="rgb(204,204,204)"/>
<rect x="385" y="87.0" width="1" height="16.80" fill="rgb(68,68,68)"/>
<rect x="386" y="87.0" width="1" height="16.80" fill="rgb(119,119,119)"/>
<rect x="387" y="87.0" width="1" height="16.80" fill="rgb(85,85,85)"/>
<rect x="388" y="87.0" width="1" height="16.80" fill="rgb(119,119,119)"/>
<rect x="389" y="87.0" width="1" height="16.80" fill="rgb(34,34,34)"/>
<rect x="390" y="87.0" width="1" height="16.80" fill="rgb(136,136,136)"/>
<rect x="391" y="87.0" width="1" height="16.80" fill="rgb(204,204,204)"/>
<rect x="392" y="87.0" width="1" height="16.80" fill="rgb(187,187,187)"/>
<rect x="393" y="87.0" width="1" height="16.80" fill="rgb(51,51,51)"/>
<rect x="394" y="87.0" width="1" height="16.80" fill="rgb(85,85,85)"/>
<rect x="395" y="87.0" width="1" height="16.80" fill="rgb(119,119,119)"/>
<rect x="396" y="87.0" width="1" height="16.80" fill="rgb(136,136,136)"/>
<rect x="397" y="87.0" width="1" height="16.80" fill="rgb(119,119,119)"/>
<rect x="398" y="87.0" width="1" height="16.80" fill="rgb(187,187,187)"/>
<rect x="399" y="87.0" width="1" height="16.80" fill="rgb(17,17,17)"/>
<rect x="400" y="87.0" width="1" height="16.80" fill="rgb(34,34,34)"/>
<rect x="401" y="87.0" width="1" height="16.80" fill="rgb(51,51,51)"/>
<rect x="402" y="87.0" width="1" height="16.80" fill="rgb(204,204,204)"/>
<rect x="403" y="87.0" width="1" height="16.80" fill="rgb(238,238,238)"/>
<rect x="404" y="87.0" width="1" height="16.80" fill="rgb(204,204,204)"/>
<rect x="405" y="87.0" width="1" height="16.80" fill="rgb(51,51,51)"/>
<rect x="406" y="87.0" width="1" height="16.80" fill="rgb(136,136,136)"/>
<rect x="407" y="87.0" width="1" height="16.80" fill="rgb(51,51,51)"/>
<rect x="408" y="87.0" width="1" height="16.80" fill="rgb(187,187,187)"/>
<rect x="409" y="87.0" width="1" height="16.80" fill="rgb(34,34,34)"/>
<rect x="410" y="87.0" width="1" height="16.80" fill="rgb(17,17,17)"/>
<rect x="411" y="87.0" width="1" height="16.80" fill="rgb(119,119,119)"/>
<rect x="412" y="87.0" width="1" height="16.80" fill="rgb(85,85,85)"/>
<rect x="413" y="87.0" width="1" height="16.80" fill="rgb(102,102,102)"/>
<rect x="414" y="87.0" width="1" height="16.80" fill="rgb(102,102,102)"/>
<rect x="415" y="87.0" width="1" height="16.80" fill="rgb(119,119,119)"/>
<rect x="416" y="87.0" width="1" height="16.80" fill="rgb(68,68,68)"/>
<rect x="417" y="87.0" width="1" height="16.80" fill="rgb(238,238,238)"/>
<rect x="418" y="87.0" width="1" height="16.80" fill="rgb(238,238,238)"/>
<rect x="419" y="87.0" width="1" height="16.80" fill="rgb(170,170,170)"/>
<rect x="420" y="87.0" width="1" height="16.80" fill="rgb(34,34,34)"/>
<rect x="421" y="87.0" width="1" height="16.80" fill="rgb(187,187,187)"/>
<rect x="422" y="87.0" width="1" height="16.80" fill="rgb(51,51,51)"/>
<rect x="423" y="87.0" width="1" height="16.80" fill="rgb(17,17,17)"/>
<rect x="424" y="87.0" width="1" height="16.80" fill="rgb(136,136,136)"/>
<rect x="425" y="87.0" width="1" height="16.80" fill="rgb(119,119,119)"/>
<rect x="426" y="87.0" width="1" height="16.80" fill="rgb(136,136,136)"/>
<rect x="427" y="87.0" width="1" height="16.80" fill="rgb(102,102,102)"/>
<rect x="428" y="87.0" width="1" height="16.80" fill="rgb(119,119,119)"/>
<rect x="429" y="87.0" width="1" height="16.80" fill="rgb(85,85,85)"/>
<rect x="430" y="87.0" width="1" height="16.80" fill="rgb(102,102,102)"/>
<rect x="431" y="87.0" width="1" height="16.80" fill="rgb(34,34,34)"/>
<rect x="432" y="87.0" width="1" height="16.80" fill="rgb(136,136,136)"/>
<rect x="433" y="87.0" width="1" height="16.80" fill="rgb(153,153,153)"/>
<rect x="434" y="87.0" width="1" height="16.80" fill="rgb(119,119,119)"/>
<rect x="435" y="87.0" width="1" height="16.80" fill="rgb(187,187,187)"/>
<rect x="436" y="87.0" width="1" height="16.80" fill="rgb(51,51,51)"/>
<rect x="437" y="87.0" width="1" height="16.80" fill="rgb(68,68,68)"/>
<rect x="438" y="87.0" width="1" height="16.80" fill="rgb(119,119,119)"/>
<rect x="439" y="87.0" width="1" height="16.80" fill="rgb(187,187,187)"/>
<rect x="440" y="87.0" width="1" height="16.80" fill="rgb(68,68,68)"/>
<rect x="441" y="87.0" width="1" height="16.80" fill="rgb(102,102,102)"/>
<rect x="442" y="87.0" width="1" height="16.80" fill="rgb(68,68,68)"/>
<rect x="443" y="87.0" width="1" height="16.80" fill="rgb(119,119,119)"/>
<rect x="444" y="87.0" width="1" height="16.80" fill="rgb(170,170,170)"/>
<rect x="445" y="87.0" width="1" height="16.80" fill="rgb(51,51,51)"/>
<rect x="446" y="87.0" width="1" height="16.80" fill="rgb(17,17,17)"/>
<rect x="447" y="87.0" width="1" height="16.80" fill="rgb(204,204,204)"/>
<defs><linearGradient id="gb" x1="0" x2="1" y1="0" y2="0"><stop offset="0" stop-color="#d03e52"/><stop offset="0.2" stop-color="#d64a60"/><stop offset="0.29" stop-color="#dc6a84"/><stop offset="0.31" stop-color="#ecc6dc"/><stop offset="0.5" stop-color="#e2d8f2"/><stop offset="0.58" stop-color="#d4ccee"/><stop offset="0.66" stop-color="#9c96da"/><stop offset="0.72" stop-color="#6464c0"/><stop offset="1" stop-color="#5454b2"/></linearGradient></defs>
<rect x="336" y="103.80" width="112" height="4.00" fill="url(#gb)"/>
<rect x="336" y="107.8" width="116.5" height="35.80" fill="none" stroke="#d8d8d8" stroke-width="0.7"/>
<text x="337.00" y="110.60" font-size="2.95" fill="#e690a0">na_pos (positively correlated)</text>
<polygon points="336,122.4 336.0,117.6 337.9,118.3 339.7,118.9 341.6,119.5 343.5,119.9 345.3,120.2 347.2,120.5 349.1,120.8 350.9,121.0 352.8,121.2 354.7,121.3 356.5,121.5 358.4,121.6 360.3,121.7 362.1,121.8 364.0,121.9 365.9,122.0 367.7,122.0 369.6,122.1 371.5,122.2 373.3,122.2 375.2,122.3 377.1,122.3 378.9,122.4 380.8,122.4 382.7,122.5 384.5,122.5 386.4,122.6 388.3,122.6 390.1,122.7 392.0,122.7 393.9,122.8 395.7,122.8 397.6,122.9 399.5,122.9 401.3,123.0 403.2,123.0 405.1,123.0 406.9,123.1 408.8,123.1 410.7,123.2 412.5,123.2 414.4,123.3 416.3,123.3 418.1,123.4 420.0,123.4 421.9,123.5 423.7,123.5 425.6,123.5 427.5,123.6 429.3,123.6 431.2,123.7 433.1,123.7 434.9,123.8 436.8,123.8 438.7,123.9 440.5,123.9 442.4,123.9 444.3,124.0 446.1,124.0 448.0,126.6 448,122.4" fill="#d6d6de"/>
<line x1="336" x2="448" y1="121.9" y2="121.9" stroke="#d8d8e0" stroke-width="1.4"/>
<text x="333.60" y="115.50" font-size="4.4" text-anchor="end" fill="#333" stroke="#333" stroke-width="0.132">1</text>
<text x="333.60" y="123.90" font-size="4.4" text-anchor="end" fill="#333" stroke="#333" stroke-width="0.132">0</text>
<text x="333.60" y="132.30" font-size="4.4" text-anchor="end" fill="#333" stroke="#333" stroke-width="0.132">-1</text>
<text x="333.60" y="140.70" font-size="4.4" text-anchor="end" fill="#333" stroke="#333" stroke-width="0.132">-2</text>
<text x="387.00" y="127.00" font-size="2.85" text-anchor="middle" fill="#222" stroke="#222" stroke-width="0.08">Zero cross at 4798</text>
<text x="435.00" y="141.80" font-size="2.95" text-anchor="end" fill="#6a6ab8">na_neg (negatively correlated)</text>
<text x="0" y="0" font-size="5.4" text-anchor="middle" fill="#222" stroke="#222" stroke-width="0.15" transform="translate(317.5,127.5) rotate(-90)">Ranked list metric</text>
<text x="0" y="0" font-size="5.4" text-anchor="middle" fill="#222" stroke="#222" stroke-width="0.15" transform="translate(324.5,127.5) rotate(-90)">(PreRanked)</text>
<text x="336.00" y="148.00" font-size="4.3" text-anchor="middle" fill="#333" stroke="#333" stroke-width="0.129">0</text>
<text x="358.20" y="148.00" font-size="4.3" text-anchor="middle" fill="#333" stroke="#333" stroke-width="0.129">2,500</text>
<text x="380.40" y="148.00" font-size="4.3" text-anchor="middle" fill="#333" stroke="#333" stroke-width="0.129">5,000</text>
<text x="402.60" y="148.00" font-size="4.3" text-anchor="middle" fill="#333" stroke="#333" stroke-width="0.129">7,500</text>
<text x="424.80" y="148.00" font-size="4.3" text-anchor="middle" fill="#333" stroke="#333" stroke-width="0.129">10,000</text>
<text x="447.00" y="148.00" font-size="4.3" text-anchor="middle" fill="#333" stroke="#333" stroke-width="0.129">12,500</text>
<text x="393.75" y="157.60" font-size="5.4" text-anchor="middle" fill="#111" stroke="#111" stroke-width="0.162">Rank in ordered dataset</text>
<line x1="331.6" x2="337.40000000000003" y1="164.6" y2="164.6" stroke="#b6c98a" stroke-width="1"/>
<text x="339.20" y="166.10" font-size="4.4" fill="#222" stroke="#222" stroke-width="0.132">Enrichment profile</text>
<line x1="382.6" x2="386.6" y1="164.6" y2="164.6" stroke="#111" stroke-width="1"/>
<text x="387.60" y="166.10" font-size="4.4" fill="#222" stroke="#222" stroke-width="0.132">Hits</text>
<line x1="402.0" x2="408.8" y1="164.6" y2="164.6" stroke="#ccc" stroke-width="1"/>
<text x="409.60" y="166.10" font-size="4.4" fill="#222" stroke="#222" stroke-width="0.132">Ranking metric scores</text>
<text x="321.70" y="190.70" font-size="5.55" font-weight="bold" fill="#111">Enrichment plot: MLL-ENL target genes (Wang, 2010)</text>
<rect x="329.4" y="197.0" width="127.90000000000003" height="56.30000000000001" fill="none" stroke="#d8d8d8" stroke-width="0.7"/>
<line x1="329.4" x2="457.3" y1="201.6" y2="201.6" stroke="#cfcfcf" stroke-width="0.7"/>
<text x="327.30" y="203.30" font-size="4.4" text-anchor="end" fill="#333" stroke="#333" stroke-width="0.132">0.0</text>
<text x="327.30" y="212.58" font-size="4.4" text-anchor="end" fill="#333" stroke="#333" stroke-width="0.132">-0.1</text>
<text x="327.30" y="221.86" font-size="4.4" text-anchor="end" fill="#333" stroke="#333" stroke-width="0.132">-0.2</text>
<text x="327.30" y="231.14" font-size="4.4" text-anchor="end" fill="#333" stroke="#333" stroke-width="0.132">-0.3</text>
<text x="327.30" y="240.42" font-size="4.4" text-anchor="end" fill="#333" stroke="#333" stroke-width="0.132">-0.4</text>
<text x="327.30" y="249.70" font-size="4.4" text-anchor="end" fill="#333" stroke="#333" stroke-width="0.132">-0.5</text>
<text x="0" y="0" font-size="5.4" text-anchor="middle" fill="#222" stroke="#222" stroke-width="0.15" transform="translate(316.2,225.8) rotate(-90)">Enrichment score (ES)</text>
<polyline points="329.8,198.8 332.5,200.8 335.4,202.4 339.5,203.7 342.2,204.7 344.8,203.7 347.5,204.7 352.9,208.5 361.0,213.8 369.1,219.2 379.8,226.6 387.9,232.7 394.0,236.0 399.4,239.4 407.5,243.5 414.2,246.8 420.2,250.2 422.9,248.2 426.3,248.8 429.0,244.8 433.0,240.8 437.1,235.4 439.1,232.0 441.8,230.7 445.1,223.3 446.5,220.6 449.2,218.6 450.5,212.5 451.6,207.1 451.9,200.6" fill="none" stroke="#8cae46" stroke-width="1.25" stroke-linejoin="round"/>
<rect x="335" y="253.3" width="1" height="18.60" fill="rgb(119,119,119)"/>
<rect x="338" y="253.3" width="1" height="18.60" fill="rgb(187,187,187)"/>
<rect x="339" y="253.3" width="1" height="18.60" fill="rgb(136,136,136)"/>
<rect x="340" y="253.3" width="1" height="18.60" fill="rgb(221,221,221)"/>
<rect x="341" y="253.3" width="1" height="18.60" fill="rgb(68,68,68)"/>
<rect x="342" y="253.3" width="1" height="18.60" fill="rgb(34,34,34)"/>
<rect x="343" y="253.3" width="1" height="18.60" fill="rgb(204,204,204)"/>
<rect x="344" y="253.3" width="1" height="18.60" fill="rgb(204,204,204)"/>
<rect x="345" y="253.3" width="1" height="18.60" fill="rgb(204,204,204)"/>
<rect x="350" y="253.3" width="1" height="18.60" fill="rgb(153,153,153)"/>
<rect x="351" y="253.3" width="1" height="18.60" fill="rgb(119,119,119)"/>
<rect x="353" y="253.3" width="1" height="18.60" fill="rgb(136,136,136)"/>
<rect x="354" y="253.3" width="1" height="18.60" fill="rgb(85,85,85)"/>
<rect x="357" y="253.3" width="1" height="18.60" fill="rgb(204,204,204)"/>
<rect x="362" y="253.3" width="1" height="18.60" fill="rgb(170,170,170)"/>
<rect x="363" y="253.3" width="1" height="18.60" fill="rgb(187,187,187)"/>
<rect x="365" y="253.3" width="1" height="18.60" fill="rgb(187,187,187)"/>
<rect x="366" y="253.3" width="1" height="18.60" fill="rgb(85,85,85)"/>
<rect x="367" y="253.3" width="1" height="18.60" fill="rgb(119,119,119)"/>
<rect x="368" y="253.3" width="1" height="18.60" fill="rgb(68,68,68)"/>
<rect x="369" y="253.3" width="1" height="18.60" fill="rgb(204,204,204)"/>
<rect x="370" y="253.3" width="1" height="18.60" fill="rgb(153,153,153)"/>
<rect x="372" y="253.3" width="1" height="18.60" fill="rgb(204,204,204)"/>
<rect x="373" y="253.3" width="1" height="18.60" fill="rgb(187,187,187)"/>
<rect x="374" y="253.3" width="1" height="18.60" fill="rgb(204,204,204)"/>
<rect x="375" y="253.3" width="1" height="18.60" fill="rgb(204,204,204)"/>
<rect x="377" y="253.3" width="1" height="18.60" fill="rgb(187,187,187)"/>
<rect x="379" y="253.3" width="1" height="18.60" fill="rgb(204,204,204)"/>
<rect x="381" y="253.3" width="1" height="18.60" fill="rgb(204,204,204)"/>
<rect x="382" y="253.3" width="1" height="18.60" fill="rgb(204,204,204)"/>
<rect x="384" y="253.3" width="1" height="18.60" fill="rgb(187,187,187)"/>
<rect x="385" y="253.3" width="1" height="18.60" fill="rgb(68,68,68)"/>
<rect x="386" y="253.3" width="1" height="18.60" fill="rgb(119,119,119)"/>
<rect x="387" y="253.3" width="1" height="18.60" fill="rgb(153,153,153)"/>
<rect x="388" y="253.3" width="1" height="18.60" fill="rgb(85,85,85)"/>
<rect x="389" y="253.3" width="1" height="18.60" fill="rgb(153,153,153)"/>
<rect x="390" y="253.3" width="1" height="18.60" fill="rgb(204,204,204)"/>
<rect x="391" y="253.3" width="1" height="18.60" fill="rgb(136,136,136)"/>
<rect x="392" y="253.3" width="1" height="18.60" fill="rgb(153,153,153)"/>
<rect x="393" y="253.3" width="1" height="18.60" fill="rgb(153,153,153)"/>
<rect x="394" y="253.3" width="1" height="18.60" fill="rgb(204,204,204)"/>
<rect x="396" y="253.3" width="1" height="18.60" fill="rgb(187,187,187)"/>
<rect x="398" y="253.3" width="1" height="18.60" fill="rgb(204,204,204)"/>
<rect x="399" y="253.3" width="1" height="18.60" fill="rgb(204,204,204)"/>
<rect x="401" y="253.3" width="1" height="18.60" fill="rgb(51,51,51)"/>
<rect x="402" y="253.3" width="1" height="18.60" fill="rgb(136,136,136)"/>
<rect x="403" y="253.3" width="1" height="18.60" fill="rgb(204,204,204)"/>
<rect x="404" y="253.3" width="1" height="18.60" fill="rgb(153,153,153)"/>
<rect x="406" y="253.3" width="1" height="18.60" fill="rgb(153,153,153)"/>
<rect x="407" y="253.3" width="1" height="18.60" fill="rgb(170,170,170)"/>
<rect x="408" y="253.3" width="1" height="18.60" fill="rgb(170,170,170)"/>
<rect x="409" y="253.3" width="1" height="18.60" fill="rgb(153,153,153)"/>
<rect x="410" y="253.3" width="1" height="18.60" fill="rgb(136,136,136)"/>
<rect x="411" y="253.3" width="1" height="18.60" fill="rgb(153,153,153)"/>
<rect x="412" y="253.3" width="1" height="18.60" fill="rgb(153,153,153)"/>
<rect x="413" y="253.3" width="1" height="18.60" fill="rgb(51,51,51)"/>
<rect x="415" y="253.3" width="1" height="18.60" fill="rgb(153,153,153)"/>
<rect x="416" y="253.3" width="1" height="18.60" fill="rgb(136,136,136)"/>
<rect x="418" y="253.3" width="1" height="18.60" fill="rgb(187,187,187)"/>
<rect x="419" y="253.3" width="1" height="18.60" fill="rgb(136,136,136)"/>
<rect x="420" y="253.3" width="1" height="18.60" fill="rgb(68,68,68)"/>
<rect x="421" y="253.3" width="1" height="18.60" fill="rgb(51,51,51)"/>
<rect x="422" y="253.3" width="1" height="18.60" fill="rgb(204,204,204)"/>
<rect x="423" y="253.3" width="1" height="18.60" fill="rgb(136,136,136)"/>
<rect x="424" y="253.3" width="1" height="18.60" fill="rgb(204,204,204)"/>
<rect x="425" y="253.3" width="1" height="18.60" fill="rgb(153,153,153)"/>
<rect x="427" y="253.3" width="1" height="18.60" fill="rgb(34,34,34)"/>
<rect x="428" y="253.3" width="1" height="18.60" fill="rgb(102,102,102)"/>
<rect x="429" y="253.3" width="1" height="18.60" fill="rgb(119,119,119)"/>
<rect x="430" y="253.3" width="1" height="18.60" fill="rgb(119,119,119)"/>
<rect x="431" y="253.3" width="1" height="18.60" fill="rgb(102,102,102)"/>
<rect x="432" y="253.3" width="1" height="18.60" fill="rgb(119,119,119)"/>
<rect x="433" y="253.3" width="1" height="18.60" fill="rgb(85,85,85)"/>
<rect x="434" y="253.3" width="1" height="18.60" fill="rgb(187,187,187)"/>
<rect x="435" y="253.3" width="1" height="18.60" fill="rgb(136,136,136)"/>
<rect x="436" y="253.3" width="1" height="18.60" fill="rgb(17,17,17)"/>
<rect x="437" y="253.3" width="1" height="18.60" fill="rgb(34,34,34)"/>
<rect x="438" y="253.3" width="1" height="18.60" fill="rgb(136,136,136)"/>
<rect x="439" y="253.3" width="1" height="18.60" fill="rgb(170,170,170)"/>
<rect x="440" y="253.3" width="1" height="18.60" fill="rgb(153,153,153)"/>
<rect x="441" y="253.3" width="1" height="18.60" fill="rgb(119,119,119)"/>
<rect x="442" y="253.3" width="1" height="18.60" fill="rgb(85,85,85)"/>
<rect x="443" y="253.3" width="1" height="18.60" fill="rgb(51,51,51)"/>
<rect x="444" y="253.3" width="1" height="18.60" fill="rgb(17,17,17)"/>
<rect x="445" y="253.3" width="1" height="18.60" fill="rgb(136,136,136)"/>
<rect x="446" y="253.3" width="1" height="18.60" fill="rgb(204,204,204)"/>
<rect x="447" y="253.3" width="1" height="18.60" fill="rgb(153,153,153)"/>
<rect x="448" y="253.3" width="1" height="18.60" fill="rgb(187,187,187)"/>
<rect x="449" y="253.3" width="1" height="18.60" fill="rgb(51,51,51)"/>
<rect x="450" y="253.3" width="1" height="18.60" fill="rgb(51,51,51)"/>
<rect x="451" y="253.3" width="1" height="18.60" fill="rgb(204,204,204)"/>
<defs><linearGradient id="gc" x1="0" x2="1" y1="0" y2="0"><stop offset="0" stop-color="#d03e52"/><stop offset="0.2" stop-color="#d64a60"/><stop offset="0.3" stop-color="#dc6a84"/><stop offset="0.32" stop-color="#ecc6dc"/><stop offset="0.52" stop-color="#e2d8f2"/><stop offset="0.62" stop-color="#d8d2f0"/><stop offset="0.66" stop-color="#8e88d2"/><stop offset="0.75" stop-color="#6868c0"/><stop offset="1" stop-color="#5252b0"/></linearGradient></defs>
<rect x="329.4" y="271.90" width="122.10000000000002" height="4.20" fill="url(#gc)"/>
<rect x="329.4" y="276.1" width="127.90000000000003" height="38.70" fill="none" stroke="#d8d8d8" stroke-width="0.7"/>
<text x="330.40" y="278.90" font-size="2.95" fill="#e690a0">na_pos (positively correlated)</text>
<polygon points="329.4,292.3 329.4,287.2 331.4,288.0 333.5,288.6 335.5,289.2 337.5,289.6 339.6,290.0 341.6,290.3 343.6,290.6 345.7,290.8 347.7,291.0 349.8,291.2 351.8,291.3 353.8,291.4 355.9,291.6 357.9,291.7 359.9,291.7 362.0,291.8 364.0,291.9 366.0,292.0 368.1,292.0 370.1,292.1 372.1,292.2 374.2,292.2 376.2,292.3 378.2,292.3 380.3,292.4 382.3,292.4 384.3,292.5 386.4,292.5 388.4,292.6 390.4,292.6 392.5,292.7 394.5,292.7 396.6,292.8 398.6,292.8 400.6,292.9 402.7,292.9 404.7,293.0 406.7,293.0 408.8,293.1 410.8,293.1 412.8,293.2 414.9,293.2 416.9,293.3 418.9,293.3 421.0,293.4 423.0,293.4 425.0,293.5 427.1,293.5 429.1,293.6 431.1,293.6 433.2,293.7 435.2,293.7 437.3,293.7 439.3,293.8 441.3,293.8 443.4,293.9 445.4,293.9 447.4,294.0 449.5,294.0 451.5,296.7 451.5,292.3" fill="#d6d6de"/>
<line x1="329.4" x2="451.5" y1="291.8" y2="291.8" stroke="#d8d8e0" stroke-width="1.4"/>
<text x="327.00" y="284.90" font-size="4.4" text-anchor="end" fill="#333" stroke="#333" stroke-width="0.132">1</text>
<text x="327.00" y="293.80" font-size="4.4" text-anchor="end" fill="#333" stroke="#333" stroke-width="0.132">0</text>
<text x="327.00" y="302.70" font-size="4.4" text-anchor="end" fill="#333" stroke="#333" stroke-width="0.132">-1</text>
<text x="327.00" y="311.60" font-size="4.4" text-anchor="end" fill="#333" stroke="#333" stroke-width="0.132">-2</text>
<text x="384.50" y="297.30" font-size="2.85" text-anchor="middle" fill="#222" stroke="#222" stroke-width="0.08">Zero cross at 4798</text>
<text x="437.00" y="313.00" font-size="2.95" text-anchor="end" fill="#6a6ab8">na_neg (negatively correlated)</text>
<text x="0" y="0" font-size="5.4" text-anchor="middle" fill="#222" stroke="#222" stroke-width="0.15" transform="translate(311.1,296) rotate(-90)">Ranked list metric</text>
<text x="0" y="0" font-size="5.4" text-anchor="middle" fill="#222" stroke="#222" stroke-width="0.15" transform="translate(318.1,296) rotate(-90)">(PreRanked)</text>
<text x="329.40" y="320.00" font-size="4.3" text-anchor="middle" fill="#333" stroke="#333" stroke-width="0.129">0</text>
<text x="353.57" y="320.00" font-size="4.3" text-anchor="middle" fill="#333" stroke="#333" stroke-width="0.129">2,500</text>
<text x="377.75" y="320.00" font-size="4.3" text-anchor="middle" fill="#333" stroke="#333" stroke-width="0.129">5,000</text>
<text x="401.92" y="320.00" font-size="4.3" text-anchor="middle" fill="#333" stroke="#333" stroke-width="0.129">7,500</text>
<text x="426.10" y="320.00" font-size="4.3" text-anchor="middle" fill="#333" stroke="#333" stroke-width="0.129">10,000</text>
<text x="450.27" y="320.00" font-size="4.3" text-anchor="middle" fill="#333" stroke="#333" stroke-width="0.129">12,500</text>
<text x="392.85" y="328.80" font-size="5.4" text-anchor="middle" fill="#111" stroke="#111" stroke-width="0.162">Rank in ordered dataset</text>
<line x1="331.0" x2="336.8" y1="335.2" y2="335.2" stroke="#b6c98a" stroke-width="1"/>
<text x="338.60" y="336.70" font-size="4.4" fill="#222" stroke="#222" stroke-width="0.132">Enrichment profile</text>
<line x1="382.0" x2="386.0" y1="335.2" y2="335.2" stroke="#111" stroke-width="1"/>
<text x="387.00" y="336.70" font-size="4.4" fill="#222" stroke="#222" stroke-width="0.132">Hits</text>
<line x1="401.4" x2="408.2" y1="335.2" y2="335.2" stroke="#ccc" stroke-width="1"/>
<text x="409.00" y="336.70" font-size="4.4" fill="#222" stroke="#222" stroke-width="0.132">Ranking metric scores</text>
<text x="226.00" y="419.00" font-size="5.55" font-weight="bold" fill="#111">Enrichment plot: HOXA9_DN.V1_DN (Faber,2009)</text>
<rect x="227.4" y="424.6" width="126.4" height="55.099999999999966" fill="none" stroke="#d8d8d8" stroke-width="0.7"/>
<line x1="227.4" x2="353.8" y1="427.3" y2="427.3" stroke="#cfcfcf" stroke-width="0.7"/>
<text x="225.30" y="428.50" font-size="4.4" text-anchor="end" fill="#333" stroke="#333" stroke-width="0.132">0.00</text>
<text x="225.30" y="434.20" font-size="4.4" text-anchor="end" fill="#333" stroke="#333" stroke-width="0.132">-0.05</text>
<text x="225.30" y="439.90" font-size="4.4" text-anchor="end" fill="#333" stroke="#333" stroke-width="0.132">-0.10</text>
<text x="225.30" y="445.60" font-size="4.4" text-anchor="end" fill="#333" stroke="#333" stroke-width="0.132">-0.15</text>
<text x="225.30" y="451.30" font-size="4.4" text-anchor="end" fill="#333" stroke="#333" stroke-width="0.132">-0.20</text>
<text x="225.30" y="457.00" font-size="4.4" text-anchor="end" fill="#333" stroke="#333" stroke-width="0.132">-0.25</text>
<text x="225.30" y="462.70" font-size="4.4" text-anchor="end" fill="#333" stroke="#333" stroke-width="0.132">-0.30</text>
<text x="225.30" y="468.40" font-size="4.4" text-anchor="end" fill="#333" stroke="#333" stroke-width="0.132">-0.35</text>
<text x="225.30" y="474.10" font-size="4.4" text-anchor="end" fill="#333" stroke="#333" stroke-width="0.132">-0.40</text>
<text x="225.30" y="479.80" font-size="4.4" text-anchor="end" fill="#333" stroke="#333" stroke-width="0.132">-0.45</text>
<text x="0" y="0" font-size="5.4" text-anchor="middle" fill="#222" stroke="#222" stroke-width="0.15" transform="translate(211.1,453.1) rotate(-90)">Enrichment score (ES)</text>
<polyline points="227.3,425.0 230.0,426.5 232.5,426.3 235.0,425.3 236.9,424.8 238.8,425.6 241.3,426.9 245.0,426.3 246.9,426.0 249.4,425.0 251.9,426.3 254.4,426.9 257.5,429.4 262.5,433.8 268.8,440.0 275.0,445.6 281.3,450.6 288.0,456.3 293.4,460.4 298.8,464.4 304.2,468.5 308.2,470.5 312.2,471.8 314.9,472.5 319.0,473.8 323.0,474.5 326.4,473.8 330.4,475.6 333.8,473.2 337.8,469.8 341.8,467.8 343.9,463.1 345.2,455.0 346.1,444.2 346.9,434.8 347.5,427.4" fill="none" stroke="#8cae46" stroke-width="1.25" stroke-linejoin="round"/>
<rect x="227" y="479.7" width="1" height="18.20" fill="rgb(204,204,204)"/>
<rect x="229" y="479.7" width="1" height="18.20" fill="rgb(204,204,204)"/>
<rect x="230" y="479.7" width="1" height="18.20" fill="rgb(187,187,187)"/>
<rect x="231" y="479.7" width="1" height="18.20" fill="rgb(204,204,204)"/>
<rect x="232" y="479.7" width="1" height="18.20" fill="rgb(187,187,187)"/>
<rect x="233" y="479.7" width="1" height="18.20" fill="rgb(153,153,153)"/>
<rect x="234" y="479.7" width="1" height="18.20" fill="rgb(51,51,51)"/>
<rect x="235" y="479.7" width="1" height="18.20" fill="rgb(136,136,136)"/>
<rect x="236" y="479.7" width="1" height="18.20" fill="rgb(153,153,153)"/>
<rect x="237" y="479.7" width="1" height="18.20" fill="rgb(153,153,153)"/>
<rect x="238" y="479.7" width="1" height="18.20" fill="rgb(204,204,204)"/>
<rect x="240" y="479.7" width="1" height="18.20" fill="rgb(136,136,136)"/>
<rect x="241" y="479.7" width="1" height="18.20" fill="rgb(153,153,153)"/>
<rect x="242" y="479.7" width="1" height="18.20" fill="rgb(187,187,187)"/>
<rect x="243" y="479.7" width="1" height="18.20" fill="rgb(153,153,153)"/>
<rect x="244" y="479.7" width="1" height="18.20" fill="rgb(204,204,204)"/>
<rect x="245" y="479.7" width="1" height="18.20" fill="rgb(85,85,85)"/>
<rect x="246" y="479.7" width="1" height="18.20" fill="rgb(136,136,136)"/>
<rect x="247" y="479.7" width="1" height="18.20" fill="rgb(204,204,204)"/>
<rect x="248" y="479.7" width="1" height="18.20" fill="rgb(17,17,17)"/>
<rect x="249" y="479.7" width="1" height="18.20" fill="rgb(187,187,187)"/>
<rect x="251" y="479.7" width="1" height="18.20" fill="rgb(136,136,136)"/>
<rect x="252" y="479.7" width="1" height="18.20" fill="rgb(119,119,119)"/>
<rect x="253" y="479.7" width="1" height="18.20" fill="rgb(119,119,119)"/>
<rect x="254" y="479.7" width="1" height="18.20" fill="rgb(153,153,153)"/>
<rect x="256" y="479.7" width="1" height="18.20" fill="rgb(204,204,204)"/>
<rect x="257" y="479.7" width="1" height="18.20" fill="rgb(85,85,85)"/>
<rect x="258" y="479.7" width="1" height="18.20" fill="rgb(204,204,204)"/>
<rect x="260" y="479.7" width="1" height="18.20" fill="rgb(204,204,204)"/>
<rect x="261" y="479.7" width="1" height="18.20" fill="rgb(153,153,153)"/>
<rect x="262" y="479.7" width="1" height="18.20" fill="rgb(85,85,85)"/>
<rect x="268" y="479.7" width="1" height="18.20" fill="rgb(204,204,204)"/>
<rect x="269" y="479.7" width="1" height="18.20" fill="rgb(153,153,153)"/>
<rect x="270" y="479.7" width="1" height="18.20" fill="rgb(204,204,204)"/>
<rect x="271" y="479.7" width="1" height="18.20" fill="rgb(187,187,187)"/>
<rect x="272" y="479.7" width="1" height="18.20" fill="rgb(187,187,187)"/>
<rect x="273" y="479.7" width="1" height="18.20" fill="rgb(204,204,204)"/>
<rect x="274" y="479.7" width="1" height="18.20" fill="rgb(204,204,204)"/>
<rect x="276" y="479.7" width="1" height="18.20" fill="rgb(136,136,136)"/>
<rect x="277" y="479.7" width="1" height="18.20" fill="rgb(187,187,187)"/>
<rect x="279" y="479.7" width="1" height="18.20" fill="rgb(153,153,153)"/>
<rect x="280" y="479.7" width="1" height="18.20" fill="rgb(187,187,187)"/>
<rect x="281" y="479.7" width="1" height="18.20" fill="rgb(221,221,221)"/>
<rect x="285" y="479.7" width="1" height="18.20" fill="rgb(204,204,204)"/>
<rect x="286" y="479.7" width="1" height="18.20" fill="rgb(153,153,153)"/>
<rect x="289" y="479.7" width="1" height="18.20" fill="rgb(221,221,221)"/>
<rect x="291" y="479.7" width="1" height="18.20" fill="rgb(119,119,119)"/>
<rect x="292" y="479.7" width="1" height="18.20" fill="rgb(187,187,187)"/>
<rect x="293" y="479.7" width="1" height="18.20" fill="rgb(136,136,136)"/>
<rect x="294" y="479.7" width="1" height="18.20" fill="rgb(51,51,51)"/>
<rect x="295" y="479.7" width="1" height="18.20" fill="rgb(119,119,119)"/>
<rect x="296" y="479.7" width="1" height="18.20" fill="rgb(136,136,136)"/>
<rect x="299" y="479.7" width="1" height="18.20" fill="rgb(204,204,204)"/>
<rect x="300" y="479.7" width="1" height="18.20" fill="rgb(153,153,153)"/>
<rect x="301" y="479.7" width="1" height="18.20" fill="rgb(153,153,153)"/>
<rect x="303" y="479.7" width="1" height="18.20" fill="rgb(204,204,204)"/>
<rect x="304" y="479.7" width="1" height="18.20" fill="rgb(136,136,136)"/>
<rect x="305" y="479.7" width="1" height="18.20" fill="rgb(204,204,204)"/>
<rect x="306" y="479.7" width="1" height="18.20" fill="rgb(136,136,136)"/>
<rect x="307" y="479.7" width="1" height="18.20" fill="rgb(34,34,34)"/>
<rect x="308" y="479.7" width="1" height="18.20" fill="rgb(136,136,136)"/>
<rect x="309" y="479.7" width="1" height="18.20" fill="rgb(187,187,187)"/>
<rect x="310" y="479.7" width="1" height="18.20" fill="rgb(153,153,153)"/>
<rect x="312" y="479.7" width="1" height="18.20" fill="rgb(204,204,204)"/>
<rect x="313" y="479.7" width="1" height="18.20" fill="rgb(153,153,153)"/>
<rect x="314" y="479.7" width="1" height="18.20" fill="rgb(187,187,187)"/>
<rect x="316" y="479.7" width="1" height="18.20" fill="rgb(153,153,153)"/>
<rect x="317" y="479.7" width="1" height="18.20" fill="rgb(136,136,136)"/>
<rect x="318" y="479.7" width="1" height="18.20" fill="rgb(153,153,153)"/>
<rect x="319" y="479.7" width="1" height="18.20" fill="rgb(153,153,153)"/>
<rect x="320" y="479.7" width="1" height="18.20" fill="rgb(187,187,187)"/>
<rect x="322" y="479.7" width="1" height="18.20" fill="rgb(136,136,136)"/>
<rect x="323" y="479.7" width="1" height="18.20" fill="rgb(85,85,85)"/>
<rect x="324" y="479.7" width="1" height="18.20" fill="rgb(136,136,136)"/>
<rect x="325" y="479.7" width="1" height="18.20" fill="rgb(85,85,85)"/>
<rect x="326" y="479.7" width="1" height="18.20" fill="rgb(204,204,204)"/>
<rect x="327" y="479.7" width="1" height="18.20" fill="rgb(153,153,153)"/>
<rect x="328" y="479.7" width="1" height="18.20" fill="rgb(187,187,187)"/>
<rect x="330" y="479.7" width="1" height="18.20" fill="rgb(136,136,136)"/>
<rect x="331" y="479.7" width="1" height="18.20" fill="rgb(119,119,119)"/>
<rect x="332" y="479.7" width="1" height="18.20" fill="rgb(136,136,136)"/>
<rect x="333" y="479.7" width="1" height="18.20" fill="rgb(153,153,153)"/>
<rect x="334" y="479.7" width="1" height="18.20" fill="rgb(102,102,102)"/>
<rect x="335" y="479.7" width="1" height="18.20" fill="rgb(204,204,204)"/>
<rect x="337" y="479.7" width="1" height="18.20" fill="rgb(136,136,136)"/>
<rect x="338" y="479.7" width="1" height="18.20" fill="rgb(85,85,85)"/>
<rect x="339" y="479.7" width="1" height="18.20" fill="rgb(136,136,136)"/>
<rect x="340" y="479.7" width="1" height="18.20" fill="rgb(170,170,170)"/>
<rect x="341" y="479.7" width="1" height="18.20" fill="rgb(187,187,187)"/>
<rect x="342" y="479.7" width="1" height="18.20" fill="rgb(51,51,51)"/>
<rect x="343" y="479.7" width="1" height="18.20" fill="rgb(68,68,68)"/>
<rect x="344" y="479.7" width="1" height="18.20" fill="rgb(17,17,17)"/>
<rect x="345" y="479.7" width="1" height="18.20" fill="rgb(17,17,17)"/>
<rect x="346" y="479.7" width="1" height="18.20" fill="rgb(34,34,34)"/>
<defs><linearGradient id="ge" x1="0" x2="1" y1="0" y2="0"><stop offset="0" stop-color="#d03e52"/><stop offset="0.2" stop-color="#d64a60"/><stop offset="0.3" stop-color="#dc6a84"/><stop offset="0.32" stop-color="#ecc6dc"/><stop offset="0.5" stop-color="#e2d8f2"/><stop offset="0.65" stop-color="#d0ccf0"/><stop offset="0.68" stop-color="#8e88d2"/><stop offset="0.75" stop-color="#6464c0"/><stop offset="1" stop-color="#5252b0"/></linearGradient></defs>
<rect x="227.4" y="497.90" width="119.79999999999998" height="4.40" fill="url(#ge)"/>
<rect x="227.4" y="502.3" width="126.4" height="39.30" fill="none" stroke="#d8d8d8" stroke-width="0.7"/>
<text x="228.40" y="505.10" font-size="2.95" fill="#e690a0">na_pos (positively correlated)</text>
<polygon points="227.4,518.7 227.4,513.8 229.4,514.5 231.4,515.2 233.4,515.7 235.4,516.1 237.4,516.5 239.4,516.8 241.4,517.0 243.4,517.3 245.4,517.4 247.4,517.6 249.4,517.7 251.4,517.9 253.4,518.0 255.4,518.1 257.4,518.2 259.3,518.2 261.3,518.3 263.3,518.4 265.3,518.5 267.3,518.5 269.3,518.6 271.3,518.6 273.3,518.7 275.3,518.7 277.3,518.8 279.3,518.8 281.3,518.9 283.3,518.9 285.3,519.0 287.3,519.0 289.3,519.1 291.3,519.1 293.3,519.2 295.3,519.2 297.3,519.3 299.3,519.3 301.3,519.4 303.3,519.4 305.3,519.5 307.3,519.5 309.3,519.5 311.3,519.6 313.3,519.6 315.3,519.7 317.2,519.7 319.2,519.8 321.2,519.8 323.2,519.9 325.2,519.9 327.2,520.0 329.2,520.0 331.2,520.1 333.2,520.1 335.2,520.1 337.2,520.2 339.2,520.2 341.2,520.3 343.2,520.3 345.2,520.4 347.2,523.0 347.2,518.7" fill="#d6d6de"/>
<line x1="227.4" x2="347.2" y1="518.2" y2="518.2" stroke="#d8d8e0" stroke-width="1.4"/>
<text x="225.00" y="511.60" font-size="4.4" text-anchor="end" fill="#333" stroke="#333" stroke-width="0.132">1</text>
<text x="225.00" y="520.20" font-size="4.4" text-anchor="end" fill="#333" stroke="#333" stroke-width="0.132">0</text>
<text x="225.00" y="528.80" font-size="4.4" text-anchor="end" fill="#333" stroke="#333" stroke-width="0.132">-1</text>
<text x="225.00" y="537.40" font-size="4.4" text-anchor="end" fill="#333" stroke="#333" stroke-width="0.132">-2</text>
<text x="281.50" y="522.70" font-size="2.85" text-anchor="middle" fill="#222" stroke="#222" stroke-width="0.08">Zero cross at 4798</text>
<text x="326.00" y="539.60" font-size="2.95" text-anchor="end" fill="#6a6ab8">na_neg (negatively correlated)</text>
<text x="0" y="0" font-size="5.4" text-anchor="middle" fill="#222" stroke="#222" stroke-width="0.15" transform="translate(210.0,523.9) rotate(-90)">Ranked list metric</text>
<text x="0" y="0" font-size="5.4" text-anchor="middle" fill="#222" stroke="#222" stroke-width="0.15" transform="translate(217.0,523.9) rotate(-90)">(PreRanked)</text>
<text x="227.40" y="546.00" font-size="4.3" text-anchor="middle" fill="#333" stroke="#333" stroke-width="0.129">0</text>
<text x="251.78" y="546.00" font-size="4.3" text-anchor="middle" fill="#333" stroke="#333" stroke-width="0.129">2,500</text>
<text x="276.15" y="546.00" font-size="4.3" text-anchor="middle" fill="#333" stroke="#333" stroke-width="0.129">5,000</text>
<text x="300.52" y="546.00" font-size="4.3" text-anchor="middle" fill="#333" stroke="#333" stroke-width="0.129">7,500</text>
<text x="324.90" y="546.00" font-size="4.3" text-anchor="middle" fill="#333" stroke="#333" stroke-width="0.129">10,000</text>
<text x="349.27" y="546.00" font-size="4.3" text-anchor="middle" fill="#333" stroke="#333" stroke-width="0.129">12,500</text>
<text x="290.10" y="553.80" font-size="5.4" text-anchor="middle" fill="#111" stroke="#111" stroke-width="0.162">Rank in ordered dataset</text>
<line x1="229.2" x2="235.0" y1="558.9" y2="558.9" stroke="#b6c98a" stroke-width="1"/>
<text x="236.80" y="560.40" font-size="4.4" fill="#222" stroke="#222" stroke-width="0.132">Enrichment profile</text>
<line x1="280.2" x2="284.2" y1="558.9" y2="558.9" stroke="#111" stroke-width="1"/>
<text x="285.20" y="560.40" font-size="4.4" fill="#222" stroke="#222" stroke-width="0.132">Hits</text>
<line x1="299.6" x2="306.4" y1="558.9" y2="558.9" stroke="#ccc" stroke-width="1"/>
<text x="307.20" y="560.40" font-size="4.4" fill="#222" stroke="#222" stroke-width="0.132">Ranking metric scores</text>
<line x1="34.60" x2="34.60" y1="431.60" y2="483.50" stroke="#111" stroke-width="1.3"/>
<line x1="34.60" x2="34.60" y1="491.50" y2="541.30" stroke="#111" stroke-width="1.3"/>
<line x1="31.40" x2="38.00" y1="483.50" y2="483.50" stroke="#111" stroke-width="1.3"/>
<line x1="31.40" x2="38.00" y1="491.50" y2="491.50" stroke="#111" stroke-width="1.3"/>
<line x1="31.40" x2="34.60" y1="434.50" y2="434.50" stroke="#111" stroke-width="1.3"/>
<text x="28.60" y="436.70" font-size="6.3" text-anchor="end" fill="#333" stroke="#333" stroke-width="0.189">0.6</text>
<line x1="31.40" x2="34.60" y1="446.75" y2="446.75" stroke="#111" stroke-width="1.3"/>
<text x="28.60" y="448.95" font-size="6.3" text-anchor="end" fill="#333" stroke="#333" stroke-width="0.189">0.5</text>
<line x1="31.40" x2="34.60" y1="459.00" y2="459.00" stroke="#111" stroke-width="1.3"/>
<text x="28.60" y="461.20" font-size="6.3" text-anchor="end" fill="#333" stroke="#333" stroke-width="0.189">0.4</text>
<line x1="31.40" x2="34.60" y1="471.25" y2="471.25" stroke="#111" stroke-width="1.3"/>
<text x="28.60" y="473.45" font-size="6.3" text-anchor="end" fill="#333" stroke="#333" stroke-width="0.189">0.3</text>
<text x="28.60" y="485.70" font-size="6.3" text-anchor="end" fill="#333" stroke="#333" stroke-width="0.189">0.2</text>
<line x1="31.40" x2="34.60" y1="500.05" y2="500.05" stroke="#111" stroke-width="1.3"/>
<text x="28.60" y="502.25" font-size="6.3" text-anchor="end" fill="#333" stroke="#333" stroke-width="0.189">0.15</text>
<line x1="31.40" x2="34.60" y1="513.60" y2="513.60" stroke="#111" stroke-width="1.3"/>
<text x="28.60" y="515.80" font-size="6.3" text-anchor="end" fill="#333" stroke="#333" stroke-width="0.189">0.10</text>
<line x1="31.40" x2="34.60" y1="527.15" y2="527.15" stroke="#111" stroke-width="1.3"/>
<text x="28.60" y="529.35" font-size="6.3" text-anchor="end" fill="#333" stroke="#333" stroke-width="0.189">0.05</text>
<line x1="31.40" x2="34.60" y1="540.70" y2="540.70" stroke="#111" stroke-width="1.3"/>
<text x="28.60" y="542.90" font-size="6.3" text-anchor="end" fill="#333" stroke="#333" stroke-width="0.189">0.00</text>
<text x="0" y="0" font-size="7.5" text-anchor="middle" fill="#333" stroke="#333" stroke-width="0.22" transform="translate(14.2,487.3) rotate(-90)">% input</text>
<rect x="42.20" y="516.80" width="17.50" height="23.90" fill="#ac0a2d"/>
<line x1="51.00" x2="51.00" y1="514.30" y2="516.80" stroke="#1a1a1a" stroke-width="1.2"/>
<line x1="47.40" x2="54.60" y1="514.30" y2="514.30" stroke="#1a1a1a" stroke-width="1.3"/>
<rect x="59.70" y="529.00" width="17.30" height="11.70" fill="#2f4e8a"/>
<line x1="68.30" x2="68.30" y1="527.40" y2="529.00" stroke="#1a1a1a" stroke-width="1.2"/>
<line x1="64.70" x2="71.90" y1="527.40" y2="527.40" stroke="#1a1a1a" stroke-width="1.3"/>
<text x="68.20" y="524.62" font-size="5.5" text-anchor="middle" fill="#222" stroke="#222" stroke-width="0.16499999999999998">*</text>
<rect x="93.10" y="499.60" width="16.90" height="41.10" fill="#ac0a2d"/>
<line x1="101.50" x2="101.50" y1="492.40" y2="499.60" stroke="#1a1a1a" stroke-width="1.2"/>
<line x1="97.90" x2="105.10" y1="492.40" y2="492.40" stroke="#1a1a1a" stroke-width="1.3"/>
<rect x="110.00" y="521.90" width="17.00" height="18.80" fill="#2f4e8a"/>
<line x1="118.50" x2="118.50" y1="517.80" y2="521.90" stroke="#1a1a1a" stroke-width="1.2"/>
<line x1="114.90" x2="122.10" y1="517.80" y2="517.80" stroke="#1a1a1a" stroke-width="1.3"/>
<text x="118.50" y="515.92" font-size="5.5" text-anchor="middle" fill="#222" stroke="#222" stroke-width="0.16499999999999998">*</text>
<rect x="146.00" y="443.80" width="17.30" height="39.20" fill="#ac0a2d"/>
<rect x="146.00" y="492.00" width="17.30" height="48.70" fill="#ac0a2d"/>
<line x1="154.60" x2="154.60" y1="438.70" y2="443.80" stroke="#1a1a1a" stroke-width="1.2"/>
<line x1="151.00" x2="158.20" y1="438.70" y2="438.70" stroke="#1a1a1a" stroke-width="1.3"/>
<rect x="163.30" y="458.00" width="17.30" height="25.00" fill="#2f4e8a"/>
<rect x="163.30" y="492.00" width="17.30" height="48.70" fill="#2f4e8a"/>
<line x1="172.00" x2="172.00" y1="447.60" y2="458.00" stroke="#1a1a1a" stroke-width="1.2"/>
<line x1="168.40" x2="175.60" y1="447.60" y2="447.60" stroke="#1a1a1a" stroke-width="1.3"/>
<line x1="34.60" x2="186.80" y1="540.90" y2="540.90" stroke="#111" stroke-width="1.5"/>
<line x1="42.10" x2="77.00" y1="546.90" y2="546.90" stroke="#222" stroke-width="1.4"/>
<text x="59.55" y="557.80" font-size="8.2" font-style="italic" text-anchor="middle" fill="#222" stroke="#222" stroke-width="0.22">HoxA9</text>
<line x1="92.80" x2="127.00" y1="546.90" y2="546.90" stroke="#222" stroke-width="1.4"/>
<text x="109.90" y="557.80" font-size="8.2" font-style="italic" text-anchor="middle" fill="#222" stroke="#222" stroke-width="0.22">HoxA7</text>
<line x1="146.00" x2="180.60" y1="546.90" y2="546.90" stroke="#222" stroke-width="1.4"/>
<text x="163.30" y="557.80" font-size="8.2" font-style="italic" text-anchor="middle" fill="#222" stroke="#222" stroke-width="0.22">βactin</text>
<rect x="64.80" y="437.20" width="11.80" height="5.90" fill="#ac0a2d"/>
<rect x="64.80" y="449.40" width="11.80" height="5.90" fill="#2f4e8a"/>
<text x="79.90" y="442.20" font-size="6.8" font-style="italic" fill="#222" stroke="#222" stroke-width="0.204">Psip</text>
<text x="93.10" y="438.80" font-size="4.5" font-style="italic" fill="#222" stroke="#222" stroke-width="0.135">Fl/Fl</text>
<text x="79.90" y="454.40" font-size="6.8" font-style="italic" fill="#222" stroke="#222" stroke-width="0.204">Psip</text>
<text x="93.10" y="451.00" font-size="4.5" font-style="italic" fill="#222" stroke="#222" stroke-width="0.135">Vav/Vav</text>
<line x1="402.80" x2="402.80" y1="423.40" y2="541.00" stroke="#111" stroke-width="1.3"/>
<line x1="399.80" x2="402.80" y1="540.40" y2="540.40" stroke="#111" stroke-width="1.3"/>
<text x="397.00" y="542.60" font-size="6.2" text-anchor="end" fill="#333" stroke="#333" stroke-width="0.186">0</text>
<line x1="399.80" x2="402.80" y1="526.18" y2="526.18" stroke="#111" stroke-width="1.3"/>
<text x="397.00" y="528.38" font-size="6.2" text-anchor="end" fill="#333" stroke="#333" stroke-width="0.186">100</text>
<line x1="399.80" x2="402.80" y1="511.96" y2="511.96" stroke="#111" stroke-width="1.3"/>
<text x="397.00" y="514.16" font-size="6.2" text-anchor="end" fill="#333" stroke="#333" stroke-width="0.186">200</text>
<line x1="399.80" x2="402.80" y1="497.74" y2="497.74" stroke="#111" stroke-width="1.3"/>
<text x="397.00" y="499.94" font-size="6.2" text-anchor="end" fill="#333" stroke="#333" stroke-width="0.186">300</text>
<line x1="399.80" x2="402.80" y1="483.52" y2="483.52" stroke="#111" stroke-width="1.3"/>
<text x="397.00" y="485.72" font-size="6.2" text-anchor="end" fill="#333" stroke="#333" stroke-width="0.186">400</text>
<line x1="399.80" x2="402.80" y1="469.30" y2="469.30" stroke="#111" stroke-width="1.3"/>
<text x="397.00" y="471.50" font-size="6.2" text-anchor="end" fill="#333" stroke="#333" stroke-width="0.186">500</text>
<line x1="399.80" x2="402.80" y1="455.08" y2="455.08" stroke="#111" stroke-width="1.3"/>
<text x="397.00" y="457.28" font-size="6.2" text-anchor="end" fill="#333" stroke="#333" stroke-width="0.186">600</text>
<line x1="399.80" x2="402.80" y1="440.86" y2="440.86" stroke="#111" stroke-width="1.3"/>
<text x="397.00" y="443.06" font-size="6.2" text-anchor="end" fill="#333" stroke="#333" stroke-width="0.186">700</text>
<line x1="399.80" x2="402.80" y1="426.64" y2="426.64" stroke="#111" stroke-width="1.3"/>
<text x="397.00" y="428.84" font-size="6.2" text-anchor="end" fill="#333" stroke="#333" stroke-width="0.186">800</text>
<text x="0" y="0" font-size="7.0" text-anchor="middle" fill="#333" stroke="#333" stroke-width="0.22" transform="translate(380.8,481.2) rotate(-90)">CFU/10<tspan font-size="4.6" dy="-2.6">4</tspan><tspan dy="2.6"> cells</tspan></text>
<rect x="413.80" y="472.80" width="17.40" height="67.60" fill="#ac0a2d"/>
<line x1="422.50" x2="422.50" y1="464.30" y2="472.80" stroke="#1a1a1a" stroke-width="1.2"/>
<line x1="418.90" x2="426.10" y1="464.30" y2="464.30" stroke="#1a1a1a" stroke-width="1.3"/>
<rect x="431.20" y="520.20" width="17.50" height="20.20" fill="#2f4e8a"/>
<line x1="440.00" x2="440.00" y1="515.30" y2="520.20" stroke="#1a1a1a" stroke-width="1.2"/>
<line x1="436.40" x2="443.60" y1="515.30" y2="515.30" stroke="#1a1a1a" stroke-width="1.3"/>
<rect x="464.50" y="442.30" width="17.40" height="98.10" fill="#ac0a2d"/>
<line x1="473.00" x2="473.00" y1="435.00" y2="442.30" stroke="#1a1a1a" stroke-width="1.2"/>
<line x1="468.50" x2="477.50" y1="435.00" y2="435.00" stroke="#1a1a1a" stroke-width="1.3"/>
<rect x="481.90" y="472.90" width="17.10" height="67.50" fill="#2f4e8a"/>
<line x1="490.50" x2="490.50" y1="467.00" y2="472.90" stroke="#1a1a1a" stroke-width="1.2"/>
<line x1="486.90" x2="494.10" y1="467.00" y2="467.00" stroke="#1a1a1a" stroke-width="1.3"/>
<line x1="402.80" x2="512.00" y1="540.60" y2="540.60" stroke="#111" stroke-width="1.5"/>
<line x1="422.30" x2="440.00" y1="460.00" y2="460.00" stroke="#111" stroke-width="1.3"/>
<text x="431.20" y="460.02" font-size="5.5" text-anchor="middle" fill="#222" stroke="#222" stroke-width="0.16499999999999998">*</text>
<line x1="440.00" x2="490.90" y1="424.10" y2="424.10" stroke="#111" stroke-width="1.3"/>
<text x="465.50" y="423.22" font-size="5.5" text-anchor="middle" fill="#222" stroke="#222" stroke-width="0.16499999999999998">*</text>
<line x1="473.30" x2="490.90" y1="431.00" y2="431.00" stroke="#111" stroke-width="1.3"/>
<text x="481.90" y="430.02" font-size="5.5" text-anchor="middle" fill="#222" stroke="#222" stroke-width="0.16499999999999998">*</text>
<line x1="413.70" x2="448.70" y1="545.90" y2="545.90" stroke="#222" stroke-width="1.4"/>
<text x="431.20" y="556.20" font-size="7.9" text-anchor="middle" fill="#222" stroke="#222" stroke-width="0.22">Mock</text>
<line x1="464.50" x2="499.00" y1="545.90" y2="545.90" stroke="#222" stroke-width="1.4"/>
<text x="481.75" y="556.20" font-size="7.9" text-anchor="middle" fill="#222" stroke="#222" stroke-width="0.22">HoxA9</text>
<rect x="433.80" y="391.40" width="11.80" height="5.90" fill="#ac0a2d"/>
<rect x="433.80" y="403.90" width="11.80" height="5.90" fill="#2f4e8a"/>
<text x="449.00" y="396.40" font-size="7.1" font-style="italic" fill="#222" stroke="#222" stroke-width="0.213">Psip</text>
<text x="463.20" y="393.00" font-size="4.4" font-style="italic" fill="#222" stroke="#222" stroke-width="0.132">Fl/Fl</text>
<text x="449.00" y="408.90" font-size="7.1" font-style="italic" fill="#222" stroke="#222" stroke-width="0.213">Psip</text>
<text x="463.20" y="405.50" font-size="4.4" font-style="italic" fill="#222" stroke="#222" stroke-width="0.132">Vav/Vav</text>
<text x="7.90" y="17.60" font-size="12.4" font-weight="bold" fill="#000" stroke="#000" stroke-width="0.55">A</text>
<text x="301.90" y="17.60" font-size="12.4" font-weight="bold" fill="#000" stroke="#000" stroke-width="0.55">B</text>
<text x="301.60" y="186.40" font-size="12.4" font-weight="bold" fill="#000" stroke="#000" stroke-width="0.55">C</text>
<text x="7.70" y="390.80" font-size="12.4" font-weight="bold" fill="#000" stroke="#000" stroke-width="0.55">D</text>
<text x="205.60" y="390.80" font-size="12.4" font-weight="bold" fill="#000" stroke="#000" stroke-width="0.55">E</text>
<text x="373.40" y="390.80" font-size="12.4" font-weight="bold" fill="#000" stroke="#000" stroke-width="0.55">F</text>
<rect x="0.5" y="0.5" width="519" height="568" fill="none" stroke="#000" stroke-width="1.2"/>
</svg></body></html>
